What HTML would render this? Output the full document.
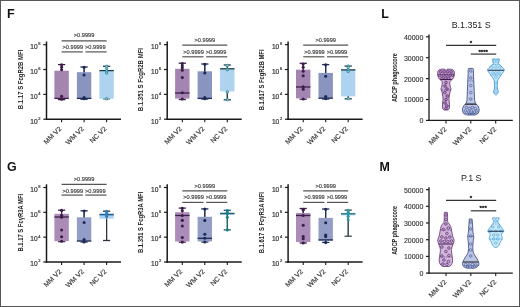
<!DOCTYPE html><html><head><meta charset="utf-8"><style>html,body{margin:0;padding:0;background:#fff}body{width:520px;height:307px;overflow:hidden}svg{display:block;filter:blur(0.3px)}</style></head><body>
<svg width="520" height="307" viewBox="0 0 520 307" font-family='"Liberation Sans", sans-serif'>
<rect x="0" y="0" width="520" height="307" fill="#fff"/>
<rect x="0.5" y="0.5" width="519" height="306" fill="none" stroke="#575757" stroke-width="1"/>
<text x="7" y="17.6" font-size="12.6" fill="#111" text-anchor="start" font-weight="bold">F</text>
<text x="7" y="170.8" font-size="12.4" fill="#111" text-anchor="start" font-weight="bold">G</text>
<text x="381.3" y="17.8" font-size="12.4" fill="#111" text-anchor="start" font-weight="bold">L</text>
<text x="379.5" y="171" font-size="12.4" fill="#111" text-anchor="start" font-weight="bold">M</text>
<line x1="46.5" y1="41.5" x2="46.5" y2="119.9" stroke="#1a1a1a" stroke-width="1.5"/>
<line x1="43.3" y1="119.2" x2="46.5" y2="119.2" stroke="#1a1a1a" stroke-width="1.2"/>
<text x="40.6" y="123.5" font-size="6.6" fill="#333" stroke="#333" stroke-width="0.2" text-anchor="end" font-family='"Liberation Sans", sans-serif'>10<tspan font-size="4.0" dx="0.7" dy="-3.9">2</tspan></text>
<line x1="43.3" y1="94.36" x2="46.5" y2="94.36" stroke="#1a1a1a" stroke-width="1.2"/>
<text x="40.6" y="98.66" font-size="6.6" fill="#333" stroke="#333" stroke-width="0.2" text-anchor="end" font-family='"Liberation Sans", sans-serif'>10<tspan font-size="4.0" dx="0.7" dy="-3.9">4</tspan></text>
<line x1="43.3" y1="69.52" x2="46.5" y2="69.52" stroke="#1a1a1a" stroke-width="1.2"/>
<text x="40.6" y="73.82" font-size="6.6" fill="#333" stroke="#333" stroke-width="0.2" text-anchor="end" font-family='"Liberation Sans", sans-serif'>10<tspan font-size="4.0" dx="0.7" dy="-3.9">6</tspan></text>
<line x1="43.3" y1="44.68" x2="46.5" y2="44.68" stroke="#1a1a1a" stroke-width="1.2"/>
<text x="40.6" y="48.98" font-size="6.6" fill="#333" stroke="#333" stroke-width="0.2" text-anchor="end" font-family='"Liberation Sans", sans-serif'>10<tspan font-size="4.0" dx="0.7" dy="-3.9">8</tspan></text>
<line x1="45.8" y1="119.2" x2="121" y2="119.2" stroke="#1a1a1a" stroke-width="1.5"/>
<line x1="61.6" y1="119.2" x2="61.6" y2="122.2" stroke="#1a1a1a" stroke-width="1.1"/>
<text x="61.9" y="129.2" font-size="6.9" fill="#333" text-anchor="end" font-weight="normal" transform="rotate(-45 61.9 129.2)" stroke="#333" stroke-width="0.15">MM V2</text>
<line x1="84.1" y1="119.2" x2="84.1" y2="122.2" stroke="#1a1a1a" stroke-width="1.1"/>
<text x="84.4" y="129.2" font-size="6.9" fill="#333" text-anchor="end" font-weight="normal" transform="rotate(-45 84.4 129.2)" stroke="#333" stroke-width="0.15">WM V2</text>
<line x1="106.6" y1="119.2" x2="106.6" y2="122.2" stroke="#1a1a1a" stroke-width="1.1"/>
<text x="106.9" y="129.2" font-size="6.9" fill="#333" text-anchor="end" font-weight="normal" transform="rotate(-45 106.9 129.2)" stroke="#333" stroke-width="0.15">NC V2</text>
<text x="23.2" y="79.4" font-size="6.9" fill="#222" text-anchor="middle" font-weight="bold" transform="rotate(-90 23.2 79.4)" textLength="59.5" lengthAdjust="spacingAndGlyphs">B.1.17 S FcgR2B MFI</text>
<line x1="61.6" y1="64.6" x2="61.6" y2="99.6" stroke="#3b1d47" stroke-width="1.1"/>
<line x1="58" y1="64.6" x2="65.2" y2="64.6" stroke="#3b1d47" stroke-width="1.3"/>
<line x1="58" y1="99.6" x2="65.2" y2="99.6" stroke="#3b1d47" stroke-width="1.3"/>
<rect x="54.4" y="70.7" width="14.4" height="27.8" fill="#a484b0" stroke="none" stroke-width="0"/>
<line x1="61.6" y1="64.6" x2="61.6" y2="70.7" stroke="#3b1d47" stroke-width="1.1"/>
<line x1="61.6" y1="98.5" x2="61.6" y2="99.6" stroke="#3b1d47" stroke-width="1.1"/>
<line x1="54.4" y1="98.4" x2="68.8" y2="98.4" stroke="#3b1d47" stroke-width="1.3"/>
<circle cx="61.6" cy="64.8" r="1.55" fill="#3b1d47" stroke="none" stroke-width="0"/>
<circle cx="61.6" cy="67.2" r="1.55" fill="#3b1d47" stroke="none" stroke-width="0"/>
<circle cx="61.6" cy="69.7" r="1.55" fill="#3b1d47" stroke="none" stroke-width="0"/>
<circle cx="61.6" cy="96.2" r="1.55" fill="#3b1d47" stroke="none" stroke-width="0"/>
<circle cx="61.6" cy="99.2" r="1.55" fill="#3b1d47" stroke="none" stroke-width="0"/>
<line x1="84.1" y1="67" x2="84.1" y2="99.2" stroke="#1e2a55" stroke-width="1.1"/>
<line x1="80.5" y1="67" x2="87.7" y2="67" stroke="#1e2a55" stroke-width="1.3"/>
<line x1="80.5" y1="99.2" x2="87.7" y2="99.2" stroke="#1e2a55" stroke-width="1.3"/>
<rect x="76.9" y="72.2" width="14.4" height="26.3" fill="#8994bf" stroke="none" stroke-width="0"/>
<line x1="84.1" y1="67" x2="84.1" y2="72.2" stroke="#1e2a55" stroke-width="1.1"/>
<line x1="84.1" y1="98.5" x2="84.1" y2="99.2" stroke="#1e2a55" stroke-width="1.1"/>
<line x1="76.9" y1="98.4" x2="91.3" y2="98.4" stroke="#1e2a55" stroke-width="1.3"/>
<circle cx="84.1" cy="67.2" r="1.55" fill="#1e2a55" stroke="none" stroke-width="0"/>
<circle cx="84.1" cy="75" r="1.55" fill="#1e2a55" stroke="none" stroke-width="0"/>
<circle cx="84.1" cy="97.5" r="1.55" fill="#1e2a55" stroke="none" stroke-width="0"/>
<circle cx="84.1" cy="98.8" r="1.55" fill="#1e2a55" stroke="none" stroke-width="0"/>
<line x1="106.6" y1="66.3" x2="106.6" y2="98.8" stroke="#1e3c44" stroke-width="1.1"/>
<line x1="103" y1="66.3" x2="110.2" y2="66.3" stroke="#1e3c44" stroke-width="1.3"/>
<line x1="103" y1="98.8" x2="110.2" y2="98.8" stroke="#1e3c44" stroke-width="1.3"/>
<rect x="99.4" y="70.2" width="14.4" height="28.6" fill="#add3ef" stroke="none" stroke-width="0"/>
<line x1="106.6" y1="66.3" x2="106.6" y2="70.2" stroke="#1e3c44" stroke-width="1.1"/>
<line x1="106.6" y1="98.8" x2="106.6" y2="98.8" stroke="#1e3c44" stroke-width="1.1"/>
<line x1="99.4" y1="70.6" x2="113.8" y2="70.6" stroke="#1e3c44" stroke-width="1.3"/>
<circle cx="106.6" cy="66.3" r="1.25" fill="#8fc3d6" stroke="#2a8797" stroke-width="0.8"/>
<circle cx="106.6" cy="68.5" r="1.25" fill="#8fc3d6" stroke="#2a8797" stroke-width="0.8"/>
<circle cx="106.6" cy="71" r="1.25" fill="#8fc3d6" stroke="#2a8797" stroke-width="0.8"/>
<circle cx="106.6" cy="73" r="1.25" fill="#8fc3d6" stroke="#2a8797" stroke-width="0.8"/>
<circle cx="106.6" cy="98.8" r="1.25" fill="#8fc3d6" stroke="#2a8797" stroke-width="0.8"/>
<line x1="61.6" y1="40.8" x2="106.6" y2="40.8" stroke="#555" stroke-width="1.2"/>
<text x="84.1" y="37.4" font-size="6" fill="#3a3a3a" text-anchor="middle" font-weight="normal" textLength="20.6" lengthAdjust="spacingAndGlyphs" stroke="#3a3a3a" stroke-width="0.15">&gt;0.9999</text>
<line x1="61.6" y1="51.9" x2="82.8" y2="51.9" stroke="#555" stroke-width="1.2"/>
<line x1="85.4" y1="51.9" x2="106.6" y2="51.9" stroke="#555" stroke-width="1.2"/>
<text x="72.85" y="49.3" font-size="6" fill="#3a3a3a" text-anchor="middle" font-weight="normal" textLength="20.6" lengthAdjust="spacingAndGlyphs" stroke="#3a3a3a" stroke-width="0.15">&gt;0.9999</text>
<text x="95.35" y="49.3" font-size="6" fill="#3a3a3a" text-anchor="middle" font-weight="normal" textLength="20.6" lengthAdjust="spacingAndGlyphs" stroke="#3a3a3a" stroke-width="0.15">&gt;0.9999</text>
<line x1="167.2" y1="41.5" x2="167.2" y2="119.9" stroke="#1a1a1a" stroke-width="1.5"/>
<line x1="164" y1="119.2" x2="167.2" y2="119.2" stroke="#1a1a1a" stroke-width="1.2"/>
<text x="161.3" y="123.5" font-size="6.6" fill="#333" stroke="#333" stroke-width="0.2" text-anchor="end" font-family='"Liberation Sans", sans-serif'>10<tspan font-size="4.0" dx="0.7" dy="-3.9">2</tspan></text>
<line x1="164" y1="94.36" x2="167.2" y2="94.36" stroke="#1a1a1a" stroke-width="1.2"/>
<text x="161.3" y="98.66" font-size="6.6" fill="#333" stroke="#333" stroke-width="0.2" text-anchor="end" font-family='"Liberation Sans", sans-serif'>10<tspan font-size="4.0" dx="0.7" dy="-3.9">4</tspan></text>
<line x1="164" y1="69.52" x2="167.2" y2="69.52" stroke="#1a1a1a" stroke-width="1.2"/>
<text x="161.3" y="73.82" font-size="6.6" fill="#333" stroke="#333" stroke-width="0.2" text-anchor="end" font-family='"Liberation Sans", sans-serif'>10<tspan font-size="4.0" dx="0.7" dy="-3.9">6</tspan></text>
<line x1="164" y1="44.68" x2="167.2" y2="44.68" stroke="#1a1a1a" stroke-width="1.2"/>
<text x="161.3" y="48.98" font-size="6.6" fill="#333" stroke="#333" stroke-width="0.2" text-anchor="end" font-family='"Liberation Sans", sans-serif'>10<tspan font-size="4.0" dx="0.7" dy="-3.9">8</tspan></text>
<line x1="166.5" y1="119.2" x2="241.7" y2="119.2" stroke="#1a1a1a" stroke-width="1.5"/>
<line x1="182.3" y1="119.2" x2="182.3" y2="122.2" stroke="#1a1a1a" stroke-width="1.1"/>
<text x="182.6" y="129.2" font-size="6.9" fill="#333" text-anchor="end" font-weight="normal" transform="rotate(-45 182.6 129.2)" stroke="#333" stroke-width="0.15">MM V2</text>
<line x1="204.8" y1="119.2" x2="204.8" y2="122.2" stroke="#1a1a1a" stroke-width="1.1"/>
<text x="205.1" y="129.2" font-size="6.9" fill="#333" text-anchor="end" font-weight="normal" transform="rotate(-45 205.1 129.2)" stroke="#333" stroke-width="0.15">WM V2</text>
<line x1="227.3" y1="119.2" x2="227.3" y2="122.2" stroke="#1a1a1a" stroke-width="1.1"/>
<text x="227.6" y="129.2" font-size="6.9" fill="#333" text-anchor="end" font-weight="normal" transform="rotate(-45 227.6 129.2)" stroke="#333" stroke-width="0.15">NC V2</text>
<text x="143.3" y="79.6" font-size="6.9" fill="#222" text-anchor="middle" font-weight="bold" transform="rotate(-90 143.3 79.6)" textLength="63.2" lengthAdjust="spacingAndGlyphs">B.1.351 S FcgR2B MFI</text>
<line x1="182.3" y1="63.2" x2="182.3" y2="99.5" stroke="#3b1d47" stroke-width="1.1"/>
<line x1="178.7" y1="63.2" x2="185.9" y2="63.2" stroke="#3b1d47" stroke-width="1.3"/>
<line x1="178.7" y1="99.5" x2="185.9" y2="99.5" stroke="#3b1d47" stroke-width="1.3"/>
<rect x="175.1" y="68.8" width="14.4" height="29.8" fill="#a484b0" stroke="none" stroke-width="0"/>
<line x1="182.3" y1="63.2" x2="182.3" y2="68.8" stroke="#3b1d47" stroke-width="1.1"/>
<line x1="182.3" y1="98.6" x2="182.3" y2="99.5" stroke="#3b1d47" stroke-width="1.1"/>
<line x1="175.1" y1="93" x2="189.5" y2="93" stroke="#3b1d47" stroke-width="1.3"/>
<circle cx="182.3" cy="63.5" r="1.55" fill="#3b1d47" stroke="none" stroke-width="0"/>
<circle cx="182.3" cy="65.7" r="1.55" fill="#3b1d47" stroke="none" stroke-width="0"/>
<circle cx="182.3" cy="67.8" r="1.55" fill="#3b1d47" stroke="none" stroke-width="0"/>
<circle cx="182.3" cy="70.2" r="1.55" fill="#3b1d47" stroke="none" stroke-width="0"/>
<circle cx="182.3" cy="77.5" r="1.55" fill="#3b1d47" stroke="none" stroke-width="0"/>
<circle cx="182.3" cy="92.7" r="1.55" fill="#3b1d47" stroke="none" stroke-width="0"/>
<circle cx="182.3" cy="99" r="1.55" fill="#3b1d47" stroke="none" stroke-width="0"/>
<line x1="204.8" y1="64" x2="204.8" y2="99" stroke="#1e2a55" stroke-width="1.1"/>
<line x1="201.2" y1="64" x2="208.4" y2="64" stroke="#1e2a55" stroke-width="1.3"/>
<line x1="201.2" y1="99" x2="208.4" y2="99" stroke="#1e2a55" stroke-width="1.3"/>
<rect x="197.6" y="71.3" width="14.4" height="27.3" fill="#8994bf" stroke="none" stroke-width="0"/>
<line x1="204.8" y1="64" x2="204.8" y2="71.3" stroke="#1e2a55" stroke-width="1.1"/>
<line x1="204.8" y1="98.6" x2="204.8" y2="99" stroke="#1e2a55" stroke-width="1.1"/>
<line x1="197.6" y1="98.4" x2="212" y2="98.4" stroke="#1e2a55" stroke-width="1.3"/>
<circle cx="204.8" cy="64.2" r="1.55" fill="#1e2a55" stroke="none" stroke-width="0"/>
<circle cx="204.8" cy="72.9" r="1.55" fill="#1e2a55" stroke="none" stroke-width="0"/>
<circle cx="204.8" cy="97.6" r="1.55" fill="#1e2a55" stroke="none" stroke-width="0"/>
<circle cx="204.8" cy="98.8" r="1.55" fill="#1e2a55" stroke="none" stroke-width="0"/>
<line x1="227.3" y1="65" x2="227.3" y2="99.8" stroke="#1e3c44" stroke-width="1.1"/>
<line x1="223.7" y1="65" x2="230.9" y2="65" stroke="#1e3c44" stroke-width="1.3"/>
<line x1="223.7" y1="99.8" x2="230.9" y2="99.8" stroke="#1e3c44" stroke-width="1.3"/>
<rect x="220.1" y="68.6" width="14.4" height="22.8" fill="#add3ef" stroke="none" stroke-width="0"/>
<line x1="227.3" y1="65" x2="227.3" y2="68.6" stroke="#1e3c44" stroke-width="1.1"/>
<line x1="227.3" y1="91.4" x2="227.3" y2="99.8" stroke="#1e3c44" stroke-width="1.1"/>
<line x1="220.1" y1="68.8" x2="234.5" y2="68.8" stroke="#1e3c44" stroke-width="1.3"/>
<circle cx="227.3" cy="65.5" r="1.25" fill="#8fc3d6" stroke="#2a8797" stroke-width="0.8"/>
<circle cx="227.3" cy="69.7" r="1.25" fill="#8fc3d6" stroke="#2a8797" stroke-width="0.8"/>
<circle cx="227.3" cy="92" r="1.25" fill="#8fc3d6" stroke="#2a8797" stroke-width="0.8"/>
<circle cx="227.3" cy="99.8" r="1.25" fill="#8fc3d6" stroke="#2a8797" stroke-width="0.8"/>
<line x1="182.3" y1="45.2" x2="227.3" y2="45.2" stroke="#555" stroke-width="1.2"/>
<text x="204.8" y="42.3" font-size="6" fill="#3a3a3a" text-anchor="middle" font-weight="normal" textLength="20.6" lengthAdjust="spacingAndGlyphs" stroke="#3a3a3a" stroke-width="0.15">&gt;0.9999</text>
<line x1="182.3" y1="56.8" x2="203.5" y2="56.8" stroke="#555" stroke-width="1.2"/>
<line x1="206.1" y1="56.8" x2="227.3" y2="56.8" stroke="#555" stroke-width="1.2"/>
<text x="193.55" y="53.8" font-size="6" fill="#3a3a3a" text-anchor="middle" font-weight="normal" textLength="20.6" lengthAdjust="spacingAndGlyphs" stroke="#3a3a3a" stroke-width="0.15">&gt;0.9999</text>
<text x="216.05" y="53.8" font-size="6" fill="#3a3a3a" text-anchor="middle" font-weight="normal" textLength="20.6" lengthAdjust="spacingAndGlyphs" stroke="#3a3a3a" stroke-width="0.15">&gt;0.9999</text>
<line x1="288.1" y1="41.5" x2="288.1" y2="119.9" stroke="#1a1a1a" stroke-width="1.5"/>
<line x1="284.9" y1="119.2" x2="288.1" y2="119.2" stroke="#1a1a1a" stroke-width="1.2"/>
<text x="282.2" y="123.5" font-size="6.6" fill="#333" stroke="#333" stroke-width="0.2" text-anchor="end" font-family='"Liberation Sans", sans-serif'>10<tspan font-size="4.0" dx="0.7" dy="-3.9">2</tspan></text>
<line x1="284.9" y1="94.36" x2="288.1" y2="94.36" stroke="#1a1a1a" stroke-width="1.2"/>
<text x="282.2" y="98.66" font-size="6.6" fill="#333" stroke="#333" stroke-width="0.2" text-anchor="end" font-family='"Liberation Sans", sans-serif'>10<tspan font-size="4.0" dx="0.7" dy="-3.9">4</tspan></text>
<line x1="284.9" y1="69.52" x2="288.1" y2="69.52" stroke="#1a1a1a" stroke-width="1.2"/>
<text x="282.2" y="73.82" font-size="6.6" fill="#333" stroke="#333" stroke-width="0.2" text-anchor="end" font-family='"Liberation Sans", sans-serif'>10<tspan font-size="4.0" dx="0.7" dy="-3.9">6</tspan></text>
<line x1="284.9" y1="44.68" x2="288.1" y2="44.68" stroke="#1a1a1a" stroke-width="1.2"/>
<text x="282.2" y="48.98" font-size="6.6" fill="#333" stroke="#333" stroke-width="0.2" text-anchor="end" font-family='"Liberation Sans", sans-serif'>10<tspan font-size="4.0" dx="0.7" dy="-3.9">8</tspan></text>
<line x1="287.4" y1="119.2" x2="362.6" y2="119.2" stroke="#1a1a1a" stroke-width="1.5"/>
<line x1="303.2" y1="119.2" x2="303.2" y2="122.2" stroke="#1a1a1a" stroke-width="1.1"/>
<text x="303.5" y="129.2" font-size="6.9" fill="#333" text-anchor="end" font-weight="normal" transform="rotate(-45 303.5 129.2)" stroke="#333" stroke-width="0.15">MM V2</text>
<line x1="325.7" y1="119.2" x2="325.7" y2="122.2" stroke="#1a1a1a" stroke-width="1.1"/>
<text x="326" y="129.2" font-size="6.9" fill="#333" text-anchor="end" font-weight="normal" transform="rotate(-45 326 129.2)" stroke="#333" stroke-width="0.15">WM V2</text>
<line x1="348.2" y1="119.2" x2="348.2" y2="122.2" stroke="#1a1a1a" stroke-width="1.1"/>
<text x="348.5" y="129.2" font-size="6.9" fill="#333" text-anchor="end" font-weight="normal" transform="rotate(-45 348.5 129.2)" stroke="#333" stroke-width="0.15">NC V2</text>
<text x="264.2" y="79.9" font-size="6.9" fill="#222" text-anchor="middle" font-weight="bold" transform="rotate(-90 264.2 79.9)" textLength="60.8" lengthAdjust="spacingAndGlyphs">B.1.617 S FcgR2B MFI</text>
<line x1="303.2" y1="63.3" x2="303.2" y2="99.2" stroke="#3b1d47" stroke-width="1.1"/>
<line x1="299.6" y1="63.3" x2="306.8" y2="63.3" stroke="#3b1d47" stroke-width="1.3"/>
<line x1="299.6" y1="99.2" x2="306.8" y2="99.2" stroke="#3b1d47" stroke-width="1.3"/>
<rect x="296" y="69.7" width="14.4" height="28.7" fill="#a484b0" stroke="none" stroke-width="0"/>
<line x1="303.2" y1="63.3" x2="303.2" y2="69.7" stroke="#3b1d47" stroke-width="1.1"/>
<line x1="303.2" y1="98.4" x2="303.2" y2="99.2" stroke="#3b1d47" stroke-width="1.1"/>
<line x1="296" y1="87" x2="310.4" y2="87" stroke="#3b1d47" stroke-width="1.3"/>
<circle cx="303.2" cy="64" r="1.55" fill="#3b1d47" stroke="none" stroke-width="0"/>
<circle cx="303.2" cy="67.2" r="1.55" fill="#3b1d47" stroke="none" stroke-width="0"/>
<circle cx="303.2" cy="71.3" r="1.55" fill="#3b1d47" stroke="none" stroke-width="0"/>
<circle cx="303.2" cy="75.8" r="1.55" fill="#3b1d47" stroke="none" stroke-width="0"/>
<circle cx="303.2" cy="86.8" r="1.55" fill="#3b1d47" stroke="none" stroke-width="0"/>
<circle cx="303.2" cy="89.2" r="1.55" fill="#3b1d47" stroke="none" stroke-width="0"/>
<circle cx="303.2" cy="99" r="1.55" fill="#3b1d47" stroke="none" stroke-width="0"/>
<line x1="325.7" y1="64.6" x2="325.7" y2="99" stroke="#1e2a55" stroke-width="1.1"/>
<line x1="322.1" y1="64.6" x2="329.3" y2="64.6" stroke="#1e2a55" stroke-width="1.3"/>
<line x1="322.1" y1="99" x2="329.3" y2="99" stroke="#1e2a55" stroke-width="1.3"/>
<rect x="318.5" y="72.9" width="14.4" height="25.5" fill="#8994bf" stroke="none" stroke-width="0"/>
<line x1="325.7" y1="64.6" x2="325.7" y2="72.9" stroke="#1e2a55" stroke-width="1.1"/>
<line x1="325.7" y1="98.4" x2="325.7" y2="99" stroke="#1e2a55" stroke-width="1.1"/>
<line x1="318.5" y1="98.2" x2="332.9" y2="98.2" stroke="#1e2a55" stroke-width="1.3"/>
<circle cx="325.7" cy="64.8" r="1.55" fill="#1e2a55" stroke="none" stroke-width="0"/>
<circle cx="325.7" cy="76.2" r="1.55" fill="#1e2a55" stroke="none" stroke-width="0"/>
<circle cx="325.7" cy="96.5" r="1.55" fill="#1e2a55" stroke="none" stroke-width="0"/>
<circle cx="325.7" cy="98.6" r="1.55" fill="#1e2a55" stroke="none" stroke-width="0"/>
<line x1="348.2" y1="66.1" x2="348.2" y2="98.8" stroke="#1e3c44" stroke-width="1.1"/>
<line x1="344.6" y1="66.1" x2="351.8" y2="66.1" stroke="#1e3c44" stroke-width="1.3"/>
<line x1="344.6" y1="98.8" x2="351.8" y2="98.8" stroke="#1e3c44" stroke-width="1.3"/>
<rect x="341" y="69.5" width="14.4" height="26.9" fill="#add3ef" stroke="none" stroke-width="0"/>
<line x1="348.2" y1="66.1" x2="348.2" y2="69.5" stroke="#1e3c44" stroke-width="1.1"/>
<line x1="348.2" y1="96.4" x2="348.2" y2="98.8" stroke="#1e3c44" stroke-width="1.1"/>
<line x1="341" y1="69.9" x2="355.4" y2="69.9" stroke="#1e3c44" stroke-width="1.3"/>
<circle cx="348.2" cy="66.1" r="1.25" fill="#8fc3d6" stroke="#2a8797" stroke-width="0.8"/>
<circle cx="348.2" cy="67.5" r="1.25" fill="#8fc3d6" stroke="#2a8797" stroke-width="0.8"/>
<circle cx="348.2" cy="70" r="1.25" fill="#8fc3d6" stroke="#2a8797" stroke-width="0.8"/>
<circle cx="348.2" cy="71.5" r="1.25" fill="#8fc3d6" stroke="#2a8797" stroke-width="0.8"/>
<circle cx="348.2" cy="98.6" r="1.25" fill="#8fc3d6" stroke="#2a8797" stroke-width="0.8"/>
<line x1="303.2" y1="45.2" x2="348.2" y2="45.2" stroke="#555" stroke-width="1.2"/>
<text x="325.7" y="42.3" font-size="6" fill="#3a3a3a" text-anchor="middle" font-weight="normal" textLength="20.6" lengthAdjust="spacingAndGlyphs" stroke="#3a3a3a" stroke-width="0.15">&gt;0.9999</text>
<line x1="303.2" y1="56.8" x2="324.4" y2="56.8" stroke="#555" stroke-width="1.2"/>
<line x1="327" y1="56.8" x2="348.2" y2="56.8" stroke="#555" stroke-width="1.2"/>
<text x="314.45" y="53.8" font-size="6" fill="#3a3a3a" text-anchor="middle" font-weight="normal" textLength="20.6" lengthAdjust="spacingAndGlyphs" stroke="#3a3a3a" stroke-width="0.15">&gt;0.9999</text>
<text x="336.95" y="53.8" font-size="6" fill="#3a3a3a" text-anchor="middle" font-weight="normal" textLength="20.6" lengthAdjust="spacingAndGlyphs" stroke="#3a3a3a" stroke-width="0.15">&gt;0.9999</text>
<line x1="46.5" y1="184.3" x2="46.5" y2="262.7" stroke="#1a1a1a" stroke-width="1.5"/>
<line x1="43.3" y1="262" x2="46.5" y2="262" stroke="#1a1a1a" stroke-width="1.2"/>
<text x="40.6" y="266.3" font-size="6.6" fill="#333" stroke="#333" stroke-width="0.2" text-anchor="end" font-family='"Liberation Sans", sans-serif'>10<tspan font-size="4.0" dx="0.7" dy="-3.9">2</tspan></text>
<line x1="43.3" y1="237.16" x2="46.5" y2="237.16" stroke="#1a1a1a" stroke-width="1.2"/>
<text x="40.6" y="241.46" font-size="6.6" fill="#333" stroke="#333" stroke-width="0.2" text-anchor="end" font-family='"Liberation Sans", sans-serif'>10<tspan font-size="4.0" dx="0.7" dy="-3.9">4</tspan></text>
<line x1="43.3" y1="212.32" x2="46.5" y2="212.32" stroke="#1a1a1a" stroke-width="1.2"/>
<text x="40.6" y="216.62" font-size="6.6" fill="#333" stroke="#333" stroke-width="0.2" text-anchor="end" font-family='"Liberation Sans", sans-serif'>10<tspan font-size="4.0" dx="0.7" dy="-3.9">6</tspan></text>
<line x1="43.3" y1="187.48" x2="46.5" y2="187.48" stroke="#1a1a1a" stroke-width="1.2"/>
<text x="40.6" y="191.78" font-size="6.6" fill="#333" stroke="#333" stroke-width="0.2" text-anchor="end" font-family='"Liberation Sans", sans-serif'>10<tspan font-size="4.0" dx="0.7" dy="-3.9">8</tspan></text>
<line x1="45.8" y1="262" x2="121" y2="262" stroke="#1a1a1a" stroke-width="1.5"/>
<line x1="61.6" y1="262" x2="61.6" y2="265" stroke="#1a1a1a" stroke-width="1.1"/>
<text x="61.9" y="272" font-size="6.9" fill="#333" text-anchor="end" font-weight="normal" transform="rotate(-45 61.9 272)" stroke="#333" stroke-width="0.15">MM V2</text>
<line x1="84.1" y1="262" x2="84.1" y2="265" stroke="#1a1a1a" stroke-width="1.1"/>
<text x="84.4" y="272" font-size="6.9" fill="#333" text-anchor="end" font-weight="normal" transform="rotate(-45 84.4 272)" stroke="#333" stroke-width="0.15">WM V2</text>
<line x1="106.6" y1="262" x2="106.6" y2="265" stroke="#1a1a1a" stroke-width="1.1"/>
<text x="106.9" y="272" font-size="6.9" fill="#333" text-anchor="end" font-weight="normal" transform="rotate(-45 106.9 272)" stroke="#333" stroke-width="0.15">NC V2</text>
<text x="23.2" y="222.7" font-size="6.9" fill="#222" text-anchor="middle" font-weight="bold" transform="rotate(-90 23.2 222.7)" textLength="57.8" lengthAdjust="spacingAndGlyphs">B.1.17 S Fc&#947;R3A MFI</text>
<line x1="61.6" y1="210.2" x2="61.6" y2="241.6" stroke="#3b1d47" stroke-width="1.1"/>
<line x1="58" y1="210.2" x2="65.2" y2="210.2" stroke="#3b1d47" stroke-width="1.3"/>
<line x1="58" y1="241.6" x2="65.2" y2="241.6" stroke="#3b1d47" stroke-width="1.3"/>
<rect x="54.4" y="213.8" width="14.4" height="27.4" fill="#ab8bb7" stroke="none" stroke-width="0"/>
<line x1="61.6" y1="210.2" x2="61.6" y2="213.8" stroke="#3b1d47" stroke-width="1.1"/>
<line x1="61.6" y1="241.2" x2="61.6" y2="241.6" stroke="#3b1d47" stroke-width="1.1"/>
<line x1="54.4" y1="217" x2="68.8" y2="217" stroke="#3b1d47" stroke-width="1.3"/>
<circle cx="61.6" cy="210.4" r="1.55" fill="#3b1d47" stroke="none" stroke-width="0"/>
<circle cx="61.6" cy="215.3" r="1.55" fill="#3b1d47" stroke="none" stroke-width="0"/>
<circle cx="61.6" cy="217.3" r="1.55" fill="#3b1d47" stroke="none" stroke-width="0"/>
<circle cx="61.6" cy="230" r="1.55" fill="#3b1d47" stroke="none" stroke-width="0"/>
<circle cx="61.6" cy="236.7" r="1.55" fill="#3b1d47" stroke="none" stroke-width="0"/>
<circle cx="61.6" cy="241.2" r="1.55" fill="#3b1d47" stroke="none" stroke-width="0"/>
<line x1="84.1" y1="210.8" x2="84.1" y2="242" stroke="#1e2a55" stroke-width="1.1"/>
<line x1="80.5" y1="210.8" x2="87.7" y2="210.8" stroke="#1e2a55" stroke-width="1.3"/>
<line x1="80.5" y1="242" x2="87.7" y2="242" stroke="#1e2a55" stroke-width="1.3"/>
<rect x="76.9" y="217.3" width="14.4" height="23.9" fill="#939dc6" stroke="none" stroke-width="0"/>
<line x1="84.1" y1="210.8" x2="84.1" y2="217.3" stroke="#1e2a55" stroke-width="1.1"/>
<line x1="84.1" y1="241.2" x2="84.1" y2="242" stroke="#1e2a55" stroke-width="1.1"/>
<line x1="76.9" y1="241" x2="91.3" y2="241" stroke="#1e2a55" stroke-width="1.3"/>
<circle cx="84.1" cy="211" r="1.55" fill="#1e2a55" stroke="none" stroke-width="0"/>
<circle cx="84.1" cy="222.5" r="1.55" fill="#1e2a55" stroke="none" stroke-width="0"/>
<circle cx="84.1" cy="239.6" r="1.55" fill="#1e2a55" stroke="none" stroke-width="0"/>
<circle cx="84.1" cy="242" r="1.55" fill="#1e2a55" stroke="none" stroke-width="0"/>
<line x1="106.6" y1="211.2" x2="106.6" y2="240.5" stroke="#2a3440" stroke-width="1.1"/>
<line x1="103" y1="211.2" x2="110.2" y2="211.2" stroke="#2a3440" stroke-width="1.3"/>
<line x1="103" y1="240.5" x2="110.2" y2="240.5" stroke="#2a3440" stroke-width="1.3"/>
<rect x="99.4" y="213.2" width="14.4" height="5.5" fill="#add3ef" stroke="none" stroke-width="0"/>
<line x1="106.6" y1="211.2" x2="106.6" y2="213.2" stroke="#2a3440" stroke-width="1.1"/>
<line x1="106.6" y1="218.7" x2="106.6" y2="240.5" stroke="#2a3440" stroke-width="1.1"/>
<line x1="99.4" y1="214.7" x2="113.8" y2="214.7" stroke="#1f5a8a" stroke-width="1.3"/>
<circle cx="106.6" cy="211.4" r="1.55" fill="#2f7fc0" stroke="none" stroke-width="0"/>
<circle cx="106.6" cy="213.3" r="1.55" fill="#2f7fc0" stroke="none" stroke-width="0"/>
<circle cx="106.6" cy="214.8" r="1.55" fill="#2f7fc0" stroke="none" stroke-width="0"/>
<circle cx="106.6" cy="216.6" r="1.55" fill="#2f7fc0" stroke="none" stroke-width="0"/>
<line x1="61.6" y1="184.4" x2="106.6" y2="184.4" stroke="#555" stroke-width="1.2"/>
<text x="84.1" y="180.7" font-size="6" fill="#3a3a3a" text-anchor="middle" font-weight="normal" textLength="20.6" lengthAdjust="spacingAndGlyphs" stroke="#3a3a3a" stroke-width="0.15">&gt;0.9999</text>
<line x1="61.6" y1="195.1" x2="82.8" y2="195.1" stroke="#555" stroke-width="1.2"/>
<line x1="85.4" y1="195.1" x2="106.6" y2="195.1" stroke="#555" stroke-width="1.2"/>
<text x="72.85" y="192.6" font-size="6" fill="#3a3a3a" text-anchor="middle" font-weight="normal" textLength="20.6" lengthAdjust="spacingAndGlyphs" stroke="#3a3a3a" stroke-width="0.15">&gt;0.9999</text>
<text x="95.35" y="192.6" font-size="6" fill="#3a3a3a" text-anchor="middle" font-weight="normal" textLength="20.6" lengthAdjust="spacingAndGlyphs" stroke="#3a3a3a" stroke-width="0.15">&gt;0.9999</text>
<line x1="167.2" y1="184.3" x2="167.2" y2="262.7" stroke="#1a1a1a" stroke-width="1.5"/>
<line x1="164" y1="262" x2="167.2" y2="262" stroke="#1a1a1a" stroke-width="1.2"/>
<text x="161.3" y="266.3" font-size="6.6" fill="#333" stroke="#333" stroke-width="0.2" text-anchor="end" font-family='"Liberation Sans", sans-serif'>10<tspan font-size="4.0" dx="0.7" dy="-3.9">2</tspan></text>
<line x1="164" y1="237.16" x2="167.2" y2="237.16" stroke="#1a1a1a" stroke-width="1.2"/>
<text x="161.3" y="241.46" font-size="6.6" fill="#333" stroke="#333" stroke-width="0.2" text-anchor="end" font-family='"Liberation Sans", sans-serif'>10<tspan font-size="4.0" dx="0.7" dy="-3.9">4</tspan></text>
<line x1="164" y1="212.32" x2="167.2" y2="212.32" stroke="#1a1a1a" stroke-width="1.2"/>
<text x="161.3" y="216.62" font-size="6.6" fill="#333" stroke="#333" stroke-width="0.2" text-anchor="end" font-family='"Liberation Sans", sans-serif'>10<tspan font-size="4.0" dx="0.7" dy="-3.9">6</tspan></text>
<line x1="164" y1="187.48" x2="167.2" y2="187.48" stroke="#1a1a1a" stroke-width="1.2"/>
<text x="161.3" y="191.78" font-size="6.6" fill="#333" stroke="#333" stroke-width="0.2" text-anchor="end" font-family='"Liberation Sans", sans-serif'>10<tspan font-size="4.0" dx="0.7" dy="-3.9">8</tspan></text>
<line x1="166.5" y1="262" x2="241.7" y2="262" stroke="#1a1a1a" stroke-width="1.5"/>
<line x1="182.3" y1="262" x2="182.3" y2="265" stroke="#1a1a1a" stroke-width="1.1"/>
<text x="182.6" y="272" font-size="6.9" fill="#333" text-anchor="end" font-weight="normal" transform="rotate(-45 182.6 272)" stroke="#333" stroke-width="0.15">MM V2</text>
<line x1="204.8" y1="262" x2="204.8" y2="265" stroke="#1a1a1a" stroke-width="1.1"/>
<text x="205.1" y="272" font-size="6.9" fill="#333" text-anchor="end" font-weight="normal" transform="rotate(-45 205.1 272)" stroke="#333" stroke-width="0.15">WM V2</text>
<line x1="227.3" y1="262" x2="227.3" y2="265" stroke="#1a1a1a" stroke-width="1.1"/>
<text x="227.6" y="272" font-size="6.9" fill="#333" text-anchor="end" font-weight="normal" transform="rotate(-45 227.6 272)" stroke="#333" stroke-width="0.15">NC V2</text>
<text x="143.3" y="222.4" font-size="6.9" fill="#222" text-anchor="middle" font-weight="bold" transform="rotate(-90 143.3 222.4)" textLength="61.4" lengthAdjust="spacingAndGlyphs">B.1.351 S FcgR3A MFI</text>
<line x1="182.3" y1="208.1" x2="182.3" y2="242.1" stroke="#3b1d47" stroke-width="1.1"/>
<line x1="178.7" y1="208.1" x2="185.9" y2="208.1" stroke="#3b1d47" stroke-width="1.3"/>
<line x1="178.7" y1="242.1" x2="185.9" y2="242.1" stroke="#3b1d47" stroke-width="1.3"/>
<rect x="175.1" y="212.2" width="14.4" height="29.3" fill="#ab8bb7" stroke="none" stroke-width="0"/>
<line x1="182.3" y1="208.1" x2="182.3" y2="212.2" stroke="#3b1d47" stroke-width="1.1"/>
<line x1="182.3" y1="241.5" x2="182.3" y2="242.1" stroke="#3b1d47" stroke-width="1.1"/>
<line x1="175.1" y1="215.5" x2="189.5" y2="215.5" stroke="#3b1d47" stroke-width="1.3"/>
<circle cx="182.3" cy="208.3" r="1.55" fill="#3b1d47" stroke="none" stroke-width="0"/>
<circle cx="182.3" cy="210.8" r="1.55" fill="#3b1d47" stroke="none" stroke-width="0"/>
<circle cx="182.3" cy="215.5" r="1.55" fill="#3b1d47" stroke="none" stroke-width="0"/>
<circle cx="182.3" cy="220.4" r="1.55" fill="#3b1d47" stroke="none" stroke-width="0"/>
<circle cx="182.3" cy="226" r="1.55" fill="#3b1d47" stroke="none" stroke-width="0"/>
<circle cx="182.3" cy="237.5" r="1.55" fill="#3b1d47" stroke="none" stroke-width="0"/>
<circle cx="182.3" cy="242.1" r="1.55" fill="#3b1d47" stroke="none" stroke-width="0"/>
<line x1="204.8" y1="208.9" x2="204.8" y2="242" stroke="#1e2a55" stroke-width="1.1"/>
<line x1="201.2" y1="208.9" x2="208.4" y2="208.9" stroke="#1e2a55" stroke-width="1.3"/>
<line x1="201.2" y1="242" x2="208.4" y2="242" stroke="#1e2a55" stroke-width="1.3"/>
<rect x="197.6" y="216.8" width="14.4" height="24.7" fill="#939dc6" stroke="none" stroke-width="0"/>
<line x1="204.8" y1="208.9" x2="204.8" y2="216.8" stroke="#1e2a55" stroke-width="1.1"/>
<line x1="204.8" y1="241.5" x2="204.8" y2="242" stroke="#1e2a55" stroke-width="1.1"/>
<line x1="197.6" y1="238.3" x2="212" y2="238.3" stroke="#1e2a55" stroke-width="1.3"/>
<circle cx="204.8" cy="209.1" r="1.55" fill="#1e2a55" stroke="none" stroke-width="0"/>
<circle cx="204.8" cy="220.4" r="1.55" fill="#1e2a55" stroke="none" stroke-width="0"/>
<circle cx="204.8" cy="234.2" r="1.55" fill="#1e2a55" stroke="none" stroke-width="0"/>
<circle cx="204.8" cy="238.3" r="1.55" fill="#1e2a55" stroke="none" stroke-width="0"/>
<circle cx="204.8" cy="242" r="1.55" fill="#1e2a55" stroke="none" stroke-width="0"/>
<line x1="227.3" y1="210.3" x2="227.3" y2="229.9" stroke="#1c5e6a" stroke-width="1.1"/>
<line x1="223.7" y1="210.3" x2="230.9" y2="210.3" stroke="#1c5e6a" stroke-width="1.3"/>
<line x1="223.7" y1="229.9" x2="230.9" y2="229.9" stroke="#1c5e6a" stroke-width="1.3"/>
<rect x="220.1" y="212.6" width="14.4" height="2.4" fill="#add3ef" stroke="none" stroke-width="0"/>
<line x1="227.3" y1="210.3" x2="227.3" y2="212.6" stroke="#1c5e6a" stroke-width="1.1"/>
<line x1="227.3" y1="215" x2="227.3" y2="229.9" stroke="#1c5e6a" stroke-width="1.1"/>
<line x1="220.1" y1="213.5" x2="234.5" y2="213.5" stroke="#1c5e6a" stroke-width="1.3"/>
<circle cx="227.3" cy="210.6" r="1.55" fill="#237f8f" stroke="none" stroke-width="0"/>
<circle cx="227.3" cy="212.3" r="1.55" fill="#237f8f" stroke="none" stroke-width="0"/>
<circle cx="227.3" cy="213.8" r="1.55" fill="#237f8f" stroke="none" stroke-width="0"/>
<circle cx="227.3" cy="217.3" r="1.55" fill="#237f8f" stroke="none" stroke-width="0"/>
<circle cx="227.3" cy="229.9" r="1.55" fill="#237f8f" stroke="none" stroke-width="0"/>
<line x1="182.3" y1="190.9" x2="227.3" y2="190.9" stroke="#555" stroke-width="1.2"/>
<text x="204.8" y="187.7" font-size="6" fill="#3a3a3a" text-anchor="middle" font-weight="normal" textLength="20.6" lengthAdjust="spacingAndGlyphs" stroke="#3a3a3a" stroke-width="0.15">&gt;0.9999</text>
<line x1="182.3" y1="202.4" x2="203.5" y2="202.4" stroke="#555" stroke-width="1.2"/>
<line x1="206.1" y1="202.4" x2="227.3" y2="202.4" stroke="#555" stroke-width="1.2"/>
<text x="193.55" y="198.8" font-size="6" fill="#3a3a3a" text-anchor="middle" font-weight="normal" textLength="20.6" lengthAdjust="spacingAndGlyphs" stroke="#3a3a3a" stroke-width="0.15">&gt;0.9999</text>
<text x="216.05" y="198.8" font-size="6" fill="#3a3a3a" text-anchor="middle" font-weight="normal" textLength="20.6" lengthAdjust="spacingAndGlyphs" stroke="#3a3a3a" stroke-width="0.15">&gt;0.9999</text>
<line x1="288.1" y1="184.3" x2="288.1" y2="262.7" stroke="#1a1a1a" stroke-width="1.5"/>
<line x1="284.9" y1="262" x2="288.1" y2="262" stroke="#1a1a1a" stroke-width="1.2"/>
<text x="282.2" y="266.3" font-size="6.6" fill="#333" stroke="#333" stroke-width="0.2" text-anchor="end" font-family='"Liberation Sans", sans-serif'>10<tspan font-size="4.0" dx="0.7" dy="-3.9">2</tspan></text>
<line x1="284.9" y1="237.16" x2="288.1" y2="237.16" stroke="#1a1a1a" stroke-width="1.2"/>
<text x="282.2" y="241.46" font-size="6.6" fill="#333" stroke="#333" stroke-width="0.2" text-anchor="end" font-family='"Liberation Sans", sans-serif'>10<tspan font-size="4.0" dx="0.7" dy="-3.9">4</tspan></text>
<line x1="284.9" y1="212.32" x2="288.1" y2="212.32" stroke="#1a1a1a" stroke-width="1.2"/>
<text x="282.2" y="216.62" font-size="6.6" fill="#333" stroke="#333" stroke-width="0.2" text-anchor="end" font-family='"Liberation Sans", sans-serif'>10<tspan font-size="4.0" dx="0.7" dy="-3.9">6</tspan></text>
<line x1="284.9" y1="187.48" x2="288.1" y2="187.48" stroke="#1a1a1a" stroke-width="1.2"/>
<text x="282.2" y="191.78" font-size="6.6" fill="#333" stroke="#333" stroke-width="0.2" text-anchor="end" font-family='"Liberation Sans", sans-serif'>10<tspan font-size="4.0" dx="0.7" dy="-3.9">8</tspan></text>
<line x1="287.4" y1="262" x2="362.6" y2="262" stroke="#1a1a1a" stroke-width="1.5"/>
<line x1="303.2" y1="262" x2="303.2" y2="265" stroke="#1a1a1a" stroke-width="1.1"/>
<text x="303.5" y="272" font-size="6.9" fill="#333" text-anchor="end" font-weight="normal" transform="rotate(-45 303.5 272)" stroke="#333" stroke-width="0.15">MM V2</text>
<line x1="325.7" y1="262" x2="325.7" y2="265" stroke="#1a1a1a" stroke-width="1.1"/>
<text x="326" y="272" font-size="6.9" fill="#333" text-anchor="end" font-weight="normal" transform="rotate(-45 326 272)" stroke="#333" stroke-width="0.15">WM V2</text>
<line x1="348.2" y1="262" x2="348.2" y2="265" stroke="#1a1a1a" stroke-width="1.1"/>
<text x="348.5" y="272" font-size="6.9" fill="#333" text-anchor="end" font-weight="normal" transform="rotate(-45 348.5 272)" stroke="#333" stroke-width="0.15">NC V2</text>
<text x="264.2" y="222.7" font-size="6.9" fill="#222" text-anchor="middle" font-weight="bold" transform="rotate(-90 264.2 222.7)" textLength="61.3" lengthAdjust="spacingAndGlyphs">B.1.617 S Fc&#947;R3A MFI</text>
<line x1="303.2" y1="208.5" x2="303.2" y2="243" stroke="#3b1d47" stroke-width="1.1"/>
<line x1="299.6" y1="208.5" x2="306.8" y2="208.5" stroke="#3b1d47" stroke-width="1.3"/>
<line x1="299.6" y1="243" x2="306.8" y2="243" stroke="#3b1d47" stroke-width="1.3"/>
<rect x="296" y="213" width="14.4" height="29" fill="#ab8bb7" stroke="none" stroke-width="0"/>
<line x1="303.2" y1="208.5" x2="303.2" y2="213" stroke="#3b1d47" stroke-width="1.1"/>
<line x1="303.2" y1="242" x2="303.2" y2="243" stroke="#3b1d47" stroke-width="1.1"/>
<line x1="296" y1="215.5" x2="310.4" y2="215.5" stroke="#3b1d47" stroke-width="1.3"/>
<circle cx="303.2" cy="209.3" r="1.55" fill="#3b1d47" stroke="none" stroke-width="0"/>
<circle cx="303.2" cy="210" r="1.55" fill="#3b1d47" stroke="none" stroke-width="0"/>
<circle cx="303.2" cy="215.5" r="1.55" fill="#3b1d47" stroke="none" stroke-width="0"/>
<circle cx="303.2" cy="225.2" r="1.55" fill="#3b1d47" stroke="none" stroke-width="0"/>
<circle cx="303.2" cy="236.6" r="1.55" fill="#3b1d47" stroke="none" stroke-width="0"/>
<circle cx="303.2" cy="238.8" r="1.55" fill="#3b1d47" stroke="none" stroke-width="0"/>
<circle cx="303.2" cy="243" r="1.55" fill="#3b1d47" stroke="none" stroke-width="0"/>
<line x1="325.7" y1="209" x2="325.7" y2="242.4" stroke="#1e2a55" stroke-width="1.1"/>
<line x1="322.1" y1="209" x2="329.3" y2="209" stroke="#1e2a55" stroke-width="1.3"/>
<line x1="322.1" y1="242.4" x2="329.3" y2="242.4" stroke="#1e2a55" stroke-width="1.3"/>
<rect x="318.5" y="217.9" width="14.4" height="22.8" fill="#939dc6" stroke="none" stroke-width="0"/>
<line x1="325.7" y1="209" x2="325.7" y2="217.9" stroke="#1e2a55" stroke-width="1.1"/>
<line x1="325.7" y1="240.7" x2="325.7" y2="242.4" stroke="#1e2a55" stroke-width="1.1"/>
<line x1="318.5" y1="239.9" x2="332.9" y2="239.9" stroke="#1e2a55" stroke-width="1.3"/>
<circle cx="325.7" cy="209.2" r="1.55" fill="#1e2a55" stroke="none" stroke-width="0"/>
<circle cx="325.7" cy="222.8" r="1.55" fill="#1e2a55" stroke="none" stroke-width="0"/>
<circle cx="325.7" cy="235" r="1.55" fill="#1e2a55" stroke="none" stroke-width="0"/>
<circle cx="325.7" cy="236.6" r="1.55" fill="#1e2a55" stroke="none" stroke-width="0"/>
<circle cx="325.7" cy="242.6" r="1.55" fill="#1e2a55" stroke="none" stroke-width="0"/>
<line x1="348.2" y1="210.1" x2="348.2" y2="236.2" stroke="#3a474d" stroke-width="1.1"/>
<line x1="344.6" y1="210.1" x2="351.8" y2="210.1" stroke="#3a474d" stroke-width="1.3"/>
<line x1="344.6" y1="236.2" x2="351.8" y2="236.2" stroke="#3a474d" stroke-width="1.3"/>
<rect x="341" y="213.3" width="14.4" height="2.1" fill="#add3ef" stroke="none" stroke-width="0"/>
<line x1="348.2" y1="210.1" x2="348.2" y2="213.3" stroke="#3a474d" stroke-width="1.1"/>
<line x1="348.2" y1="215.4" x2="348.2" y2="236.2" stroke="#3a474d" stroke-width="1.1"/>
<line x1="341" y1="213.8" x2="355.4" y2="213.8" stroke="#1d6f80" stroke-width="1.3"/>
<circle cx="348.2" cy="210.4" r="1.55" fill="#2a9aaa" stroke="none" stroke-width="0"/>
<circle cx="348.2" cy="212.3" r="1.55" fill="#2a9aaa" stroke="none" stroke-width="0"/>
<circle cx="348.2" cy="214" r="1.55" fill="#2a9aaa" stroke="none" stroke-width="0"/>
<circle cx="348.2" cy="216.3" r="1.55" fill="#2a9aaa" stroke="none" stroke-width="0"/>
<circle cx="348.2" cy="219.8" r="1.55" fill="#2a9aaa" stroke="none" stroke-width="0"/>
<line x1="303.2" y1="190.9" x2="348.2" y2="190.9" stroke="#555" stroke-width="1.2"/>
<text x="325.7" y="187.7" font-size="6" fill="#3a3a3a" text-anchor="middle" font-weight="normal" textLength="20.6" lengthAdjust="spacingAndGlyphs" stroke="#3a3a3a" stroke-width="0.15">&gt;0.9999</text>
<line x1="303.2" y1="202.4" x2="324.4" y2="202.4" stroke="#555" stroke-width="1.2"/>
<line x1="327" y1="202.4" x2="348.2" y2="202.4" stroke="#555" stroke-width="1.2"/>
<text x="314.45" y="198.8" font-size="6" fill="#3a3a3a" text-anchor="middle" font-weight="normal" textLength="20.6" lengthAdjust="spacingAndGlyphs" stroke="#3a3a3a" stroke-width="0.15">&gt;0.9999</text>
<text x="336.95" y="198.8" font-size="6" fill="#3a3a3a" text-anchor="middle" font-weight="normal" textLength="20.6" lengthAdjust="spacingAndGlyphs" stroke="#3a3a3a" stroke-width="0.15">&gt;0.9999</text>
<line x1="429" y1="34.5" x2="429" y2="121" stroke="#1a1a1a" stroke-width="1.3"/>
<line x1="426" y1="120.4" x2="429" y2="120.4" stroke="#1a1a1a" stroke-width="1.2"/>
<text x="423.4" y="123.3" font-size="7" fill="#333" text-anchor="end" font-weight="normal" stroke="#333" stroke-width="0.12">0</text>
<line x1="426" y1="99.5" x2="429" y2="99.5" stroke="#1a1a1a" stroke-width="1.2"/>
<text x="423.4" y="102.4" font-size="7" fill="#333" text-anchor="end" font-weight="normal" stroke="#333" stroke-width="0.12">10000</text>
<line x1="426" y1="78.6" x2="429" y2="78.6" stroke="#1a1a1a" stroke-width="1.2"/>
<text x="423.4" y="81.5" font-size="7" fill="#333" text-anchor="end" font-weight="normal" stroke="#333" stroke-width="0.12">20000</text>
<line x1="426" y1="57.7" x2="429" y2="57.7" stroke="#1a1a1a" stroke-width="1.2"/>
<text x="423.4" y="60.6" font-size="7" fill="#333" text-anchor="end" font-weight="normal" stroke="#333" stroke-width="0.12">30000</text>
<line x1="426" y1="36.8" x2="429" y2="36.8" stroke="#1a1a1a" stroke-width="1.2"/>
<text x="423.4" y="39.7" font-size="7" fill="#333" text-anchor="end" font-weight="normal" stroke="#333" stroke-width="0.12">40000</text>
<line x1="428.4" y1="120.4" x2="512.8" y2="120.4" stroke="#1a1a1a" stroke-width="1.3"/>
<line x1="446" y1="120.4" x2="446" y2="123.4" stroke="#1a1a1a" stroke-width="1.1"/>
<text x="446.9" y="129.9" font-size="6.9" fill="#333" text-anchor="end" font-weight="normal" transform="rotate(-45 446.9 129.9)" stroke="#333" stroke-width="0.15">MM V2</text>
<line x1="470.8" y1="120.4" x2="470.8" y2="123.4" stroke="#1a1a1a" stroke-width="1.1"/>
<text x="471.7" y="129.9" font-size="6.9" fill="#333" text-anchor="end" font-weight="normal" transform="rotate(-45 471.7 129.9)" stroke="#333" stroke-width="0.15">WM V2</text>
<line x1="495.7" y1="120.4" x2="495.7" y2="123.4" stroke="#1a1a1a" stroke-width="1.1"/>
<text x="496.6" y="129.9" font-size="6.9" fill="#333" text-anchor="end" font-weight="normal" transform="rotate(-45 496.6 129.9)" stroke="#333" stroke-width="0.15">NC V2</text>
<text x="396.7" y="77.5" font-size="6.5" fill="#1a1a1a" text-anchor="middle" font-weight="bold" transform="rotate(-90 396.7 77.5)" textLength="48.8" lengthAdjust="spacingAndGlyphs">ADCP phagoscore</text>
<text x="471.2" y="28.4" font-size="8.9" fill="#222" text-anchor="middle" font-weight="normal">B.1.351 S</text>
<clipPath id="vc1"><path d="M450.5,69.2 C450.83,69.27 451.92,69.3 452.5,69.6 C453.08,69.9 453.68,70.35 454,71 C454.32,71.65 454.4,72.58 454.4,73.5 C454.4,74.42 454.3,75.58 454,76.5 C453.7,77.42 453.27,78.17 452.6,79 C451.93,79.83 450.45,80.58 450,81.5 C449.55,82.42 449.8,83.5 449.9,84.5 C450,85.5 450.4,86.75 450.6,87.5 C450.8,88.25 451.15,88.42 451.1,89 C451.05,89.58 450.58,90 450.3,91 C450.02,92 449.62,93.6 449.4,95 C449.18,96.4 448.98,97.82 449,99.4 C449.02,100.98 449.45,102.98 449.5,104.5 C449.55,106.02 449.55,107.58 449.3,108.5 C449.05,109.42 448.22,109.75 448,110 L444,110 C443.78,109.75 442.95,109.42 442.7,108.5 C442.45,107.58 442.45,106.02 442.5,104.5 C442.55,102.98 442.98,100.98 443,99.4 C443.02,97.82 442.82,96.4 442.6,95 C442.38,93.6 441.98,92 441.7,91 C441.42,90 440.95,89.58 440.9,89 C440.85,88.42 441.2,88.25 441.4,87.5 C441.6,86.75 442,85.5 442.1,84.5 C442.2,83.5 442.45,82.42 442,81.5 C441.55,80.58 440.07,79.83 439.4,79 C438.73,78.17 438.3,77.42 438,76.5 C437.7,75.58 437.6,74.42 437.6,73.5 C437.6,72.58 437.68,71.65 438,71 C438.32,70.35 438.92,69.9 439.5,69.6 C440.08,69.3 441.17,69.27 441.5,69.2 Z"/></clipPath>
<path d="M450.5,69.2 C450.83,69.27 451.92,69.3 452.5,69.6 C453.08,69.9 453.68,70.35 454,71 C454.32,71.65 454.4,72.58 454.4,73.5 C454.4,74.42 454.3,75.58 454,76.5 C453.7,77.42 453.27,78.17 452.6,79 C451.93,79.83 450.45,80.58 450,81.5 C449.55,82.42 449.8,83.5 449.9,84.5 C450,85.5 450.4,86.75 450.6,87.5 C450.8,88.25 451.15,88.42 451.1,89 C451.05,89.58 450.58,90 450.3,91 C450.02,92 449.62,93.6 449.4,95 C449.18,96.4 448.98,97.82 449,99.4 C449.02,100.98 449.45,102.98 449.5,104.5 C449.55,106.02 449.55,107.58 449.3,108.5 C449.05,109.42 448.22,109.75 448,110 L444,110 C443.78,109.75 442.95,109.42 442.7,108.5 C442.45,107.58 442.45,106.02 442.5,104.5 C442.55,102.98 442.98,100.98 443,99.4 C443.02,97.82 442.82,96.4 442.6,95 C442.38,93.6 441.98,92 441.7,91 C441.42,90 440.95,89.58 440.9,89 C440.85,88.42 441.2,88.25 441.4,87.5 C441.6,86.75 442,85.5 442.1,84.5 C442.2,83.5 442.45,82.42 442,81.5 C441.55,80.58 440.07,79.83 439.4,79 C438.73,78.17 438.3,77.42 438,76.5 C437.7,75.58 437.6,74.42 437.6,73.5 C437.6,72.58 437.68,71.65 438,71 C438.32,70.35 438.92,69.9 439.5,69.6 C440.08,69.3 441.17,69.27 441.5,69.2 Z" fill="#c8acd4"/>
<g clip-path="url(#vc1)">
<circle cx="440.8" cy="71.8" r="1.3" fill="#b894c6" stroke="#5c2c6c" stroke-width="0.8"/>
<circle cx="444.2" cy="71.8" r="1.3" fill="#b894c6" stroke="#5c2c6c" stroke-width="0.8"/>
<circle cx="447.8" cy="71.8" r="1.3" fill="#b894c6" stroke="#5c2c6c" stroke-width="0.8"/>
<circle cx="451.2" cy="71.8" r="1.3" fill="#b894c6" stroke="#5c2c6c" stroke-width="0.8"/>
<circle cx="439.8" cy="75.2" r="1.3" fill="#b894c6" stroke="#5c2c6c" stroke-width="0.8"/>
<circle cx="443.2" cy="75.2" r="1.3" fill="#b894c6" stroke="#5c2c6c" stroke-width="0.8"/>
<circle cx="446.6" cy="75.2" r="1.3" fill="#b894c6" stroke="#5c2c6c" stroke-width="0.8"/>
<circle cx="450" cy="75.2" r="1.3" fill="#b894c6" stroke="#5c2c6c" stroke-width="0.8"/>
<circle cx="452.8" cy="75.2" r="1.3" fill="#b894c6" stroke="#5c2c6c" stroke-width="0.8"/>
<circle cx="442" cy="78.3" r="1.3" fill="#b894c6" stroke="#5c2c6c" stroke-width="0.8"/>
<circle cx="445.4" cy="78.3" r="1.3" fill="#b894c6" stroke="#5c2c6c" stroke-width="0.8"/>
<circle cx="448.8" cy="78.3" r="1.3" fill="#b894c6" stroke="#5c2c6c" stroke-width="0.8"/>
<circle cx="446" cy="82.5" r="1.3" fill="#b894c6" stroke="#5c2c6c" stroke-width="0.8"/>
<circle cx="445" cy="86" r="1.3" fill="#b894c6" stroke="#5c2c6c" stroke-width="0.8"/>
<circle cx="447" cy="89" r="1.3" fill="#b894c6" stroke="#5c2c6c" stroke-width="0.8"/>
<circle cx="444.8" cy="92.5" r="1.3" fill="#b894c6" stroke="#5c2c6c" stroke-width="0.8"/>
<circle cx="447.2" cy="96" r="1.3" fill="#b894c6" stroke="#5c2c6c" stroke-width="0.8"/>
<circle cx="446" cy="99.5" r="1.3" fill="#b894c6" stroke="#5c2c6c" stroke-width="0.8"/>
<circle cx="445" cy="103" r="1.3" fill="#b894c6" stroke="#5c2c6c" stroke-width="0.8"/>
<circle cx="447" cy="106" r="1.3" fill="#b894c6" stroke="#5c2c6c" stroke-width="0.8"/>
<circle cx="446" cy="108.5" r="1.3" fill="#b894c6" stroke="#5c2c6c" stroke-width="0.8"/>
<line x1="440.3" y1="90" x2="451.7" y2="90" stroke="#5a2868" stroke-width="0.7" stroke-dasharray="1,0.8"/>
<line x1="436.73" y1="74.5" x2="455.27" y2="74.5" stroke="#5a2868" stroke-width="0.7" stroke-dasharray="1,0.8"/>
<line x1="438.92" y1="79.5" x2="453.08" y2="79.5" stroke="#3e1a4c" stroke-width="1.1"/>
</g>
<path d="M450.5,69.2 C450.83,69.27 451.92,69.3 452.5,69.6 C453.08,69.9 453.68,70.35 454,71 C454.32,71.65 454.4,72.58 454.4,73.5 C454.4,74.42 454.3,75.58 454,76.5 C453.7,77.42 453.27,78.17 452.6,79 C451.93,79.83 450.45,80.58 450,81.5 C449.55,82.42 449.8,83.5 449.9,84.5 C450,85.5 450.4,86.75 450.6,87.5 C450.8,88.25 451.15,88.42 451.1,89 C451.05,89.58 450.58,90 450.3,91 C450.02,92 449.62,93.6 449.4,95 C449.18,96.4 448.98,97.82 449,99.4 C449.02,100.98 449.45,102.98 449.5,104.5 C449.55,106.02 449.55,107.58 449.3,108.5 C449.05,109.42 448.22,109.75 448,110 L444,110 C443.78,109.75 442.95,109.42 442.7,108.5 C442.45,107.58 442.45,106.02 442.5,104.5 C442.55,102.98 442.98,100.98 443,99.4 C443.02,97.82 442.82,96.4 442.6,95 C442.38,93.6 441.98,92 441.7,91 C441.42,90 440.95,89.58 440.9,89 C440.85,88.42 441.2,88.25 441.4,87.5 C441.6,86.75 442,85.5 442.1,84.5 C442.2,83.5 442.45,82.42 442,81.5 C441.55,80.58 440.07,79.83 439.4,79 C438.73,78.17 438.3,77.42 438,76.5 C437.7,75.58 437.6,74.42 437.6,73.5 C437.6,72.58 437.68,71.65 438,71 C438.32,70.35 438.92,69.9 439.5,69.6 C440.08,69.3 441.17,69.27 441.5,69.2 Z" fill="none" stroke="#5a2868" stroke-width="0.8"/>
<circle cx="446" cy="68.4" r="1.7" fill="#fff" stroke="#5a2868" stroke-width="0.6"/>
<rect x="443.8" y="66.1" width="4.4" height="2.3" fill="#fff"/>
<clipPath id="vc2"><path d="M472.8,68.4 C472.9,68.55 473.28,68.2 473.4,69.3 C473.52,70.4 473.43,73.05 473.5,75 C473.57,76.95 473.7,78.83 473.8,81 C473.9,83.17 474,85.67 474.1,88 C474.2,90.33 474.3,92.92 474.4,95 C474.5,97.08 474.52,99.17 474.7,100.5 C474.88,101.83 475.23,102.4 475.5,103 C475.77,103.6 475.78,103.43 476.3,104.1 C476.82,104.77 478.13,105.93 478.6,107 C479.07,108.07 479.15,109.5 479.1,110.5 C479.05,111.5 478.77,112.32 478.3,113 C477.83,113.68 477.05,114.27 476.3,114.6 C475.55,114.93 474.22,114.93 473.8,115 L467.8,115 C467.38,114.93 466.05,114.93 465.3,114.6 C464.55,114.27 463.77,113.68 463.3,113 C462.83,112.32 462.55,111.5 462.5,110.5 C462.45,109.5 462.53,108.07 463,107 C463.47,105.93 464.78,104.77 465.3,104.1 C465.82,103.43 465.83,103.6 466.1,103 C466.37,102.4 466.72,101.83 466.9,100.5 C467.08,99.17 467.1,97.08 467.2,95 C467.3,92.92 467.4,90.33 467.5,88 C467.6,85.67 467.7,83.17 467.8,81 C467.9,78.83 468.03,76.95 468.1,75 C468.17,73.05 468.08,70.4 468.2,69.3 C468.32,68.2 468.7,68.55 468.8,68.4 Z"/></clipPath>
<path d="M472.8,68.4 C472.9,68.55 473.28,68.2 473.4,69.3 C473.52,70.4 473.43,73.05 473.5,75 C473.57,76.95 473.7,78.83 473.8,81 C473.9,83.17 474,85.67 474.1,88 C474.2,90.33 474.3,92.92 474.4,95 C474.5,97.08 474.52,99.17 474.7,100.5 C474.88,101.83 475.23,102.4 475.5,103 C475.77,103.6 475.78,103.43 476.3,104.1 C476.82,104.77 478.13,105.93 478.6,107 C479.07,108.07 479.15,109.5 479.1,110.5 C479.05,111.5 478.77,112.32 478.3,113 C477.83,113.68 477.05,114.27 476.3,114.6 C475.55,114.93 474.22,114.93 473.8,115 L467.8,115 C467.38,114.93 466.05,114.93 465.3,114.6 C464.55,114.27 463.77,113.68 463.3,113 C462.83,112.32 462.55,111.5 462.5,110.5 C462.45,109.5 462.53,108.07 463,107 C463.47,105.93 464.78,104.77 465.3,104.1 C465.82,103.43 465.83,103.6 466.1,103 C466.37,102.4 466.72,101.83 466.9,100.5 C467.08,99.17 467.1,97.08 467.2,95 C467.3,92.92 467.4,90.33 467.5,88 C467.6,85.67 467.7,83.17 467.8,81 C467.9,78.83 468.03,76.95 468.1,75 C468.17,73.05 468.08,70.4 468.2,69.3 C468.32,68.2 468.7,68.55 468.8,68.4 Z" fill="#bdc6e5"/>
<g clip-path="url(#vc2)">
<circle cx="470.8" cy="71" r="1.3" fill="#bcc6e4" stroke="#3e5090" stroke-width="0.6"/>
<circle cx="470.8" cy="78" r="1.3" fill="#bcc6e4" stroke="#3e5090" stroke-width="0.6"/>
<circle cx="470.8" cy="85.5" r="1.3" fill="#bcc6e4" stroke="#3e5090" stroke-width="0.6"/>
<circle cx="470.8" cy="92.5" r="1.3" fill="#bcc6e4" stroke="#3e5090" stroke-width="0.6"/>
<circle cx="470.8" cy="99" r="1.3" fill="#bcc6e4" stroke="#3e5090" stroke-width="0.6"/>
<circle cx="466.3" cy="107.5" r="1.3" fill="#bcc6e4" stroke="#3e5090" stroke-width="0.6"/>
<circle cx="469.3" cy="108.5" r="1.3" fill="#bcc6e4" stroke="#3e5090" stroke-width="0.6"/>
<circle cx="472.3" cy="107.5" r="1.3" fill="#bcc6e4" stroke="#3e5090" stroke-width="0.6"/>
<circle cx="475.3" cy="108.5" r="1.3" fill="#bcc6e4" stroke="#3e5090" stroke-width="0.6"/>
<circle cx="465.3" cy="111" r="1.3" fill="#bcc6e4" stroke="#3e5090" stroke-width="0.6"/>
<circle cx="468.3" cy="112" r="1.3" fill="#bcc6e4" stroke="#3e5090" stroke-width="0.6"/>
<circle cx="471.3" cy="111" r="1.3" fill="#bcc6e4" stroke="#3e5090" stroke-width="0.6"/>
<circle cx="474.3" cy="112" r="1.3" fill="#bcc6e4" stroke="#3e5090" stroke-width="0.6"/>
<circle cx="476.8" cy="111" r="1.3" fill="#bcc6e4" stroke="#3e5090" stroke-width="0.6"/>
<circle cx="469.8" cy="114" r="1.3" fill="#bcc6e4" stroke="#3e5090" stroke-width="0.6"/>
<circle cx="472.8" cy="114" r="1.3" fill="#bcc6e4" stroke="#3e5090" stroke-width="0.6"/>
<line x1="462.92" y1="113.5" x2="478.68" y2="113.5" stroke="#2f4079" stroke-width="0.7" stroke-dasharray="1,0.8"/>
<line x1="466.8" y1="81" x2="474.8" y2="81" stroke="#2f4079" stroke-width="0.7" stroke-dasharray="1,0.8"/>
<line x1="464.3" y1="104.1" x2="477.3" y2="104.1" stroke="#1a1a1a" stroke-width="1.1"/>
</g>
<path d="M472.8,68.4 C472.9,68.55 473.28,68.2 473.4,69.3 C473.52,70.4 473.43,73.05 473.5,75 C473.57,76.95 473.7,78.83 473.8,81 C473.9,83.17 474,85.67 474.1,88 C474.2,90.33 474.3,92.92 474.4,95 C474.5,97.08 474.52,99.17 474.7,100.5 C474.88,101.83 475.23,102.4 475.5,103 C475.77,103.6 475.78,103.43 476.3,104.1 C476.82,104.77 478.13,105.93 478.6,107 C479.07,108.07 479.15,109.5 479.1,110.5 C479.05,111.5 478.77,112.32 478.3,113 C477.83,113.68 477.05,114.27 476.3,114.6 C475.55,114.93 474.22,114.93 473.8,115 L467.8,115 C467.38,114.93 466.05,114.93 465.3,114.6 C464.55,114.27 463.77,113.68 463.3,113 C462.83,112.32 462.55,111.5 462.5,110.5 C462.45,109.5 462.53,108.07 463,107 C463.47,105.93 464.78,104.77 465.3,104.1 C465.82,103.43 465.83,103.6 466.1,103 C466.37,102.4 466.72,101.83 466.9,100.5 C467.08,99.17 467.1,97.08 467.2,95 C467.3,92.92 467.4,90.33 467.5,88 C467.6,85.67 467.7,83.17 467.8,81 C467.9,78.83 468.03,76.95 468.1,75 C468.17,73.05 468.08,70.4 468.2,69.3 C468.32,68.2 468.7,68.55 468.8,68.4 Z" fill="none" stroke="#2f4079" stroke-width="0.8"/>
<clipPath id="vc3"><path d="M499.5,59 C499.47,59.25 499.47,59.77 499.3,60.5 C499.13,61.23 498.3,62.57 498.5,63.4 C498.7,64.23 499.8,64.8 500.5,65.5 C501.2,66.2 502.08,66.82 502.7,67.6 C503.32,68.38 504.47,68.97 504.2,70.2 C503.93,71.43 502.1,73.47 501.1,75 C500.1,76.53 498.8,78.23 498.2,79.4 C497.6,80.57 497.65,80.9 497.5,82 C497.35,83.1 497.32,84.83 497.3,86 C497.28,87.17 497.23,88.1 497.4,89 C497.57,89.9 498.25,90.65 498.3,91.4 C498.35,92.15 498,92.93 497.7,93.5 C497.4,94.07 496.7,94.58 496.5,94.8 L495.3,94.8 C495.1,94.58 494.4,94.07 494.1,93.5 C493.8,92.93 493.45,92.15 493.5,91.4 C493.55,90.65 494.23,89.9 494.4,89 C494.57,88.1 494.52,87.17 494.5,86 C494.48,84.83 494.45,83.1 494.3,82 C494.15,80.9 494.2,80.57 493.6,79.4 C493,78.23 491.7,76.53 490.7,75 C489.7,73.47 487.87,71.43 487.6,70.2 C487.33,68.97 488.48,68.38 489.1,67.6 C489.72,66.82 490.6,66.2 491.3,65.5 C492,64.8 493.1,64.23 493.3,63.4 C493.5,62.57 492.67,61.23 492.5,60.5 C492.33,59.77 492.33,59.25 492.3,59 Z"/></clipPath>
<path d="M499.5,59 C499.47,59.25 499.47,59.77 499.3,60.5 C499.13,61.23 498.3,62.57 498.5,63.4 C498.7,64.23 499.8,64.8 500.5,65.5 C501.2,66.2 502.08,66.82 502.7,67.6 C503.32,68.38 504.47,68.97 504.2,70.2 C503.93,71.43 502.1,73.47 501.1,75 C500.1,76.53 498.8,78.23 498.2,79.4 C497.6,80.57 497.65,80.9 497.5,82 C497.35,83.1 497.32,84.83 497.3,86 C497.28,87.17 497.23,88.1 497.4,89 C497.57,89.9 498.25,90.65 498.3,91.4 C498.35,92.15 498,92.93 497.7,93.5 C497.4,94.07 496.7,94.58 496.5,94.8 L495.3,94.8 C495.1,94.58 494.4,94.07 494.1,93.5 C493.8,92.93 493.45,92.15 493.5,91.4 C493.55,90.65 494.23,89.9 494.4,89 C494.57,88.1 494.52,87.17 494.5,86 C494.48,84.83 494.45,83.1 494.3,82 C494.15,80.9 494.2,80.57 493.6,79.4 C493,78.23 491.7,76.53 490.7,75 C489.7,73.47 487.87,71.43 487.6,70.2 C487.33,68.97 488.48,68.38 489.1,67.6 C489.72,66.82 490.6,66.2 491.3,65.5 C492,64.8 493.1,64.23 493.3,63.4 C493.5,62.57 492.67,61.23 492.5,60.5 C492.33,59.77 492.33,59.25 492.3,59 Z" fill="#c4e6f8"/>
<g clip-path="url(#vc3)">
<circle cx="494.4" cy="61.5" r="1.3" fill="#c8e8f8" stroke="#5aaee0" stroke-width="0.6"/>
<circle cx="497.4" cy="61.5" r="1.3" fill="#c8e8f8" stroke="#5aaee0" stroke-width="0.6"/>
<circle cx="491.9" cy="67.2" r="1.3" fill="#c8e8f8" stroke="#5aaee0" stroke-width="0.6"/>
<circle cx="495.9" cy="67.2" r="1.3" fill="#c8e8f8" stroke="#5aaee0" stroke-width="0.6"/>
<circle cx="499.9" cy="67.2" r="1.3" fill="#c8e8f8" stroke="#5aaee0" stroke-width="0.6"/>
<circle cx="492.9" cy="73" r="1.3" fill="#c8e8f8" stroke="#5aaee0" stroke-width="0.6"/>
<circle cx="495.9" cy="73" r="1.3" fill="#c8e8f8" stroke="#5aaee0" stroke-width="0.6"/>
<circle cx="498.9" cy="73" r="1.3" fill="#c8e8f8" stroke="#5aaee0" stroke-width="0.6"/>
<circle cx="495.9" cy="77" r="1.3" fill="#c8e8f8" stroke="#5aaee0" stroke-width="0.6"/>
<circle cx="495.9" cy="83" r="1.3" fill="#c8e8f8" stroke="#5aaee0" stroke-width="0.6"/>
<circle cx="495.9" cy="88" r="1.3" fill="#c8e8f8" stroke="#5aaee0" stroke-width="0.6"/>
<circle cx="495.9" cy="92" r="1.3" fill="#c8e8f8" stroke="#5aaee0" stroke-width="0.6"/>
<line x1="489.7" y1="75" x2="502.1" y2="75" stroke="#3594d0" stroke-width="0.7" stroke-dasharray="1,0.8"/>
<line x1="491.25" y1="64.5" x2="500.55" y2="64.5" stroke="#3594d0" stroke-width="0.7" stroke-dasharray="1,0.8"/>
<line x1="486.66" y1="70.3" x2="505.14" y2="70.3" stroke="#1a2a44" stroke-width="1.1"/>
</g>
<path d="M499.5,59 C499.47,59.25 499.47,59.77 499.3,60.5 C499.13,61.23 498.3,62.57 498.5,63.4 C498.7,64.23 499.8,64.8 500.5,65.5 C501.2,66.2 502.08,66.82 502.7,67.6 C503.32,68.38 504.47,68.97 504.2,70.2 C503.93,71.43 502.1,73.47 501.1,75 C500.1,76.53 498.8,78.23 498.2,79.4 C497.6,80.57 497.65,80.9 497.5,82 C497.35,83.1 497.32,84.83 497.3,86 C497.28,87.17 497.23,88.1 497.4,89 C497.57,89.9 498.25,90.65 498.3,91.4 C498.35,92.15 498,92.93 497.7,93.5 C497.4,94.07 496.7,94.58 496.5,94.8 L495.3,94.8 C495.1,94.58 494.4,94.07 494.1,93.5 C493.8,92.93 493.45,92.15 493.5,91.4 C493.55,90.65 494.23,89.9 494.4,89 C494.57,88.1 494.52,87.17 494.5,86 C494.48,84.83 494.45,83.1 494.3,82 C494.15,80.9 494.2,80.57 493.6,79.4 C493,78.23 491.7,76.53 490.7,75 C489.7,73.47 487.87,71.43 487.6,70.2 C487.33,68.97 488.48,68.38 489.1,67.6 C489.72,66.82 490.6,66.2 491.3,65.5 C492,64.8 493.1,64.23 493.3,63.4 C493.5,62.57 492.67,61.23 492.5,60.5 C492.33,59.77 492.33,59.25 492.3,59 Z" fill="none" stroke="#3594d0" stroke-width="0.8"/>
<circle cx="495.9" cy="58.3" r="1.2" fill="#fff" stroke="#3594d0" stroke-width="0.6"/>
<rect x="494.2" y="56.5" width="3.4" height="1.8" fill="#fff"/>
<line x1="446" y1="45.4" x2="496.2" y2="45.4" stroke="#333" stroke-width="1.2"/>
<text x="471" y="45.1" font-size="6.2" fill="#222" text-anchor="middle" font-weight="normal" stroke="#222" stroke-width="0.35">*</text>
<line x1="470.8" y1="54.1" x2="496.2" y2="54.1" stroke="#333" stroke-width="1.2"/>
<text x="483.2" y="53.6" font-size="6.2" fill="#222" text-anchor="middle" font-weight="normal" stroke="#222" stroke-width="0.35">****</text>
<line x1="429" y1="187.3" x2="429" y2="273.7" stroke="#1a1a1a" stroke-width="1.3"/>
<line x1="426" y1="273.1" x2="429" y2="273.1" stroke="#1a1a1a" stroke-width="1.2"/>
<text x="423.4" y="276" font-size="7" fill="#333" text-anchor="end" font-weight="normal" stroke="#333" stroke-width="0.12">0</text>
<line x1="426" y1="256.4" x2="429" y2="256.4" stroke="#1a1a1a" stroke-width="1.2"/>
<text x="423.4" y="259.3" font-size="7" fill="#333" text-anchor="end" font-weight="normal" stroke="#333" stroke-width="0.12">10000</text>
<line x1="426" y1="239.7" x2="429" y2="239.7" stroke="#1a1a1a" stroke-width="1.2"/>
<text x="423.4" y="242.6" font-size="7" fill="#333" text-anchor="end" font-weight="normal" stroke="#333" stroke-width="0.12">20000</text>
<line x1="426" y1="223" x2="429" y2="223" stroke="#1a1a1a" stroke-width="1.2"/>
<text x="423.4" y="225.9" font-size="7" fill="#333" text-anchor="end" font-weight="normal" stroke="#333" stroke-width="0.12">30000</text>
<line x1="426" y1="206.3" x2="429" y2="206.3" stroke="#1a1a1a" stroke-width="1.2"/>
<text x="423.4" y="209.2" font-size="7" fill="#333" text-anchor="end" font-weight="normal" stroke="#333" stroke-width="0.12">40000</text>
<line x1="426" y1="189.6" x2="429" y2="189.6" stroke="#1a1a1a" stroke-width="1.2"/>
<text x="423.4" y="192.5" font-size="7" fill="#333" text-anchor="end" font-weight="normal" stroke="#333" stroke-width="0.12">50000</text>
<line x1="428.4" y1="273.1" x2="512.8" y2="273.1" stroke="#1a1a1a" stroke-width="1.3"/>
<line x1="446" y1="273.1" x2="446" y2="276.1" stroke="#1a1a1a" stroke-width="1.1"/>
<text x="446.9" y="282.6" font-size="6.9" fill="#333" text-anchor="end" font-weight="normal" transform="rotate(-45 446.9 282.6)" stroke="#333" stroke-width="0.15">MM V2</text>
<line x1="470.8" y1="273.1" x2="470.8" y2="276.1" stroke="#1a1a1a" stroke-width="1.1"/>
<text x="471.7" y="282.6" font-size="6.9" fill="#333" text-anchor="end" font-weight="normal" transform="rotate(-45 471.7 282.6)" stroke="#333" stroke-width="0.15">WM V2</text>
<line x1="495.7" y1="273.1" x2="495.7" y2="276.1" stroke="#1a1a1a" stroke-width="1.1"/>
<text x="496.6" y="282.6" font-size="6.9" fill="#333" text-anchor="end" font-weight="normal" transform="rotate(-45 496.6 282.6)" stroke="#333" stroke-width="0.15">NC V2</text>
<text x="396.7" y="230.25" font-size="6.5" fill="#1a1a1a" text-anchor="middle" font-weight="bold" transform="rotate(-90 396.7 230.25)" textLength="48.8" lengthAdjust="spacingAndGlyphs">ADCP phagoscore</text>
<text x="471.2" y="181" font-size="8.9" fill="#222" text-anchor="middle" font-weight="normal">P.1 S</text>
<clipPath id="vc4"><path d="M447,212.3 C447.08,212.45 447.38,211.67 447.5,213.2 C447.62,214.73 447.47,219.78 447.7,221.5 C447.93,223.22 448.4,222.67 448.9,223.5 C449.4,224.33 450.23,225.25 450.7,226.5 C451.17,227.75 451.37,229.37 451.7,231 C452.03,232.63 452.3,234.78 452.7,236.3 C453.1,237.82 453.97,238.98 454.1,240.1 C454.23,241.22 453.73,242.17 453.5,243 C453.27,243.83 453.05,243.98 452.7,245.1 C452.35,246.22 451.53,248.18 451.4,249.7 C451.27,251.22 451.72,252.68 451.9,254.2 C452.08,255.72 452.42,257.5 452.5,258.8 C452.58,260.1 452.63,260.97 452.4,262 C452.17,263.03 451.68,264.25 451.1,265 C450.52,265.75 449.27,266.25 448.9,266.5 L442.9,266.5 C442.53,266.25 441.28,265.75 440.7,265 C440.12,264.25 439.63,263.03 439.4,262 C439.17,260.97 439.22,260.1 439.3,258.8 C439.38,257.5 439.72,255.72 439.9,254.2 C440.08,252.68 440.53,251.22 440.4,249.7 C440.27,248.18 439.45,246.22 439.1,245.1 C438.75,243.98 438.53,243.83 438.3,243 C438.07,242.17 437.57,241.22 437.7,240.1 C437.83,238.98 438.7,237.82 439.1,236.3 C439.5,234.78 439.77,232.63 440.1,231 C440.43,229.37 440.63,227.75 441.1,226.5 C441.57,225.25 442.4,224.33 442.9,223.5 C443.4,222.67 443.87,223.22 444.1,221.5 C444.33,219.78 444.18,214.73 444.3,213.2 C444.42,211.67 444.72,212.45 444.8,212.3 Z"/></clipPath>
<path d="M447,212.3 C447.08,212.45 447.38,211.67 447.5,213.2 C447.62,214.73 447.47,219.78 447.7,221.5 C447.93,223.22 448.4,222.67 448.9,223.5 C449.4,224.33 450.23,225.25 450.7,226.5 C451.17,227.75 451.37,229.37 451.7,231 C452.03,232.63 452.3,234.78 452.7,236.3 C453.1,237.82 453.97,238.98 454.1,240.1 C454.23,241.22 453.73,242.17 453.5,243 C453.27,243.83 453.05,243.98 452.7,245.1 C452.35,246.22 451.53,248.18 451.4,249.7 C451.27,251.22 451.72,252.68 451.9,254.2 C452.08,255.72 452.42,257.5 452.5,258.8 C452.58,260.1 452.63,260.97 452.4,262 C452.17,263.03 451.68,264.25 451.1,265 C450.52,265.75 449.27,266.25 448.9,266.5 L442.9,266.5 C442.53,266.25 441.28,265.75 440.7,265 C440.12,264.25 439.63,263.03 439.4,262 C439.17,260.97 439.22,260.1 439.3,258.8 C439.38,257.5 439.72,255.72 439.9,254.2 C440.08,252.68 440.53,251.22 440.4,249.7 C440.27,248.18 439.45,246.22 439.1,245.1 C438.75,243.98 438.53,243.83 438.3,243 C438.07,242.17 437.57,241.22 437.7,240.1 C437.83,238.98 438.7,237.82 439.1,236.3 C439.5,234.78 439.77,232.63 440.1,231 C440.43,229.37 440.63,227.75 441.1,226.5 C441.57,225.25 442.4,224.33 442.9,223.5 C443.4,222.67 443.87,223.22 444.1,221.5 C444.33,219.78 444.18,214.73 444.3,213.2 C444.42,211.67 444.72,212.45 444.8,212.3 Z" fill="#d0b6da"/>
<g clip-path="url(#vc4)">
<circle cx="445.9" cy="215" r="1.3" fill="#cdb2d8" stroke="#5e2e70" stroke-width="0.75"/>
<circle cx="445.9" cy="219.5" r="1.3" fill="#cdb2d8" stroke="#5e2e70" stroke-width="0.75"/>
<circle cx="445.9" cy="224" r="1.3" fill="#cdb2d8" stroke="#5e2e70" stroke-width="0.75"/>
<circle cx="448.4" cy="228" r="1.3" fill="#cdb2d8" stroke="#5e2e70" stroke-width="0.75"/>
<circle cx="443.4" cy="229.5" r="1.3" fill="#cdb2d8" stroke="#5e2e70" stroke-width="0.75"/>
<circle cx="446.9" cy="233.5" r="1.3" fill="#cdb2d8" stroke="#5e2e70" stroke-width="0.75"/>
<circle cx="441.9" cy="237" r="1.3" fill="#cdb2d8" stroke="#5e2e70" stroke-width="0.75"/>
<circle cx="445.9" cy="238" r="1.3" fill="#cdb2d8" stroke="#5e2e70" stroke-width="0.75"/>
<circle cx="449.9" cy="237" r="1.3" fill="#cdb2d8" stroke="#5e2e70" stroke-width="0.75"/>
<circle cx="440.9" cy="241" r="1.3" fill="#cdb2d8" stroke="#5e2e70" stroke-width="0.75"/>
<circle cx="444.4" cy="241.5" r="1.3" fill="#cdb2d8" stroke="#5e2e70" stroke-width="0.75"/>
<circle cx="447.9" cy="241.5" r="1.3" fill="#cdb2d8" stroke="#5e2e70" stroke-width="0.75"/>
<circle cx="451.4" cy="241" r="1.3" fill="#cdb2d8" stroke="#5e2e70" stroke-width="0.75"/>
<circle cx="441.9" cy="247" r="1.3" fill="#cdb2d8" stroke="#5e2e70" stroke-width="0.75"/>
<circle cx="448.9" cy="248" r="1.3" fill="#cdb2d8" stroke="#5e2e70" stroke-width="0.75"/>
<circle cx="445.9" cy="251.5" r="1.3" fill="#cdb2d8" stroke="#5e2e70" stroke-width="0.75"/>
<circle cx="441.9" cy="256" r="1.3" fill="#cdb2d8" stroke="#5e2e70" stroke-width="0.75"/>
<circle cx="448.9" cy="255.5" r="1.3" fill="#cdb2d8" stroke="#5e2e70" stroke-width="0.75"/>
<circle cx="443.9" cy="260" r="1.3" fill="#cdb2d8" stroke="#5e2e70" stroke-width="0.75"/>
<circle cx="448.4" cy="261.5" r="1.3" fill="#cdb2d8" stroke="#5e2e70" stroke-width="0.75"/>
<circle cx="442.9" cy="264" r="1.3" fill="#cdb2d8" stroke="#5e2e70" stroke-width="0.75"/>
<circle cx="446.9" cy="264.5" r="1.3" fill="#cdb2d8" stroke="#5e2e70" stroke-width="0.75"/>
<line x1="438.53" y1="257" x2="453.27" y2="257" stroke="#5e2e70" stroke-width="0.7" stroke-dasharray="1,0.8"/>
<line x1="439.32" y1="230" x2="452.48" y2="230" stroke="#5e2e70" stroke-width="0.7" stroke-dasharray="1,0.8"/>
<line x1="437.68" y1="244" x2="454.12" y2="244" stroke="#3a1a48" stroke-width="1.1"/>
</g>
<path d="M447,212.3 C447.08,212.45 447.38,211.67 447.5,213.2 C447.62,214.73 447.47,219.78 447.7,221.5 C447.93,223.22 448.4,222.67 448.9,223.5 C449.4,224.33 450.23,225.25 450.7,226.5 C451.17,227.75 451.37,229.37 451.7,231 C452.03,232.63 452.3,234.78 452.7,236.3 C453.1,237.82 453.97,238.98 454.1,240.1 C454.23,241.22 453.73,242.17 453.5,243 C453.27,243.83 453.05,243.98 452.7,245.1 C452.35,246.22 451.53,248.18 451.4,249.7 C451.27,251.22 451.72,252.68 451.9,254.2 C452.08,255.72 452.42,257.5 452.5,258.8 C452.58,260.1 452.63,260.97 452.4,262 C452.17,263.03 451.68,264.25 451.1,265 C450.52,265.75 449.27,266.25 448.9,266.5 L442.9,266.5 C442.53,266.25 441.28,265.75 440.7,265 C440.12,264.25 439.63,263.03 439.4,262 C439.17,260.97 439.22,260.1 439.3,258.8 C439.38,257.5 439.72,255.72 439.9,254.2 C440.08,252.68 440.53,251.22 440.4,249.7 C440.27,248.18 439.45,246.22 439.1,245.1 C438.75,243.98 438.53,243.83 438.3,243 C438.07,242.17 437.57,241.22 437.7,240.1 C437.83,238.98 438.7,237.82 439.1,236.3 C439.5,234.78 439.77,232.63 440.1,231 C440.43,229.37 440.63,227.75 441.1,226.5 C441.57,225.25 442.4,224.33 442.9,223.5 C443.4,222.67 443.87,223.22 444.1,221.5 C444.33,219.78 444.18,214.73 444.3,213.2 C444.42,211.67 444.72,212.45 444.8,212.3 Z" fill="none" stroke="#5e2e70" stroke-width="0.8"/>
<clipPath id="vc5"><path d="M472.1,219 C472.18,220.17 472.45,223.78 472.6,226 C472.75,228.22 472.82,230.57 473,232.3 C473.18,234.03 473.65,235.02 473.7,236.4 C473.75,237.78 473.45,238.58 473.3,240.6 C473.15,242.62 472.73,246.37 472.8,248.5 C472.87,250.63 473.05,251.78 473.7,253.4 C474.35,255.02 475.9,256.78 476.7,258.2 C477.5,259.62 478.15,260.8 478.5,261.9 C478.85,263 479.02,263.95 478.8,264.8 C478.58,265.65 477.97,266.43 477.2,267 C476.43,267.57 474.7,268 474.2,268.2 L467.2,268.2 C466.7,268 464.97,267.57 464.2,267 C463.43,266.43 462.82,265.65 462.6,264.8 C462.38,263.95 462.55,263 462.9,261.9 C463.25,260.8 463.9,259.62 464.7,258.2 C465.5,256.78 467.05,255.02 467.7,253.4 C468.35,251.78 468.53,250.63 468.6,248.5 C468.67,246.37 468.25,242.62 468.1,240.6 C467.95,238.58 467.65,237.78 467.7,236.4 C467.75,235.02 468.22,234.03 468.4,232.3 C468.58,230.57 468.65,228.22 468.8,226 C468.95,223.78 469.22,220.17 469.3,219 Z"/></clipPath>
<path d="M472.1,219 C472.18,220.17 472.45,223.78 472.6,226 C472.75,228.22 472.82,230.57 473,232.3 C473.18,234.03 473.65,235.02 473.7,236.4 C473.75,237.78 473.45,238.58 473.3,240.6 C473.15,242.62 472.73,246.37 472.8,248.5 C472.87,250.63 473.05,251.78 473.7,253.4 C474.35,255.02 475.9,256.78 476.7,258.2 C477.5,259.62 478.15,260.8 478.5,261.9 C478.85,263 479.02,263.95 478.8,264.8 C478.58,265.65 477.97,266.43 477.2,267 C476.43,267.57 474.7,268 474.2,268.2 L467.2,268.2 C466.7,268 464.97,267.57 464.2,267 C463.43,266.43 462.82,265.65 462.6,264.8 C462.38,263.95 462.55,263 462.9,261.9 C463.25,260.8 463.9,259.62 464.7,258.2 C465.5,256.78 467.05,255.02 467.7,253.4 C468.35,251.78 468.53,250.63 468.6,248.5 C468.67,246.37 468.25,242.62 468.1,240.6 C467.95,238.58 467.65,237.78 467.7,236.4 C467.75,235.02 468.22,234.03 468.4,232.3 C468.58,230.57 468.65,228.22 468.8,226 C468.95,223.78 469.22,220.17 469.3,219 Z" fill="#bdc6e5"/>
<g clip-path="url(#vc5)">
<circle cx="470.7" cy="222" r="1.3" fill="#bcc6e4" stroke="#3e5090" stroke-width="0.6"/>
<circle cx="470.7" cy="229" r="1.3" fill="#bcc6e4" stroke="#3e5090" stroke-width="0.6"/>
<circle cx="470.7" cy="236" r="1.3" fill="#bcc6e4" stroke="#3e5090" stroke-width="0.6"/>
<circle cx="470.7" cy="244" r="1.3" fill="#bcc6e4" stroke="#3e5090" stroke-width="0.6"/>
<circle cx="470.7" cy="250" r="1.3" fill="#bcc6e4" stroke="#3e5090" stroke-width="0.6"/>
<circle cx="470.7" cy="256" r="1.3" fill="#bcc6e4" stroke="#3e5090" stroke-width="0.6"/>
<circle cx="465.7" cy="264.5" r="1.3" fill="#bcc6e4" stroke="#3e5090" stroke-width="0.6"/>
<circle cx="469" cy="265" r="1.3" fill="#bcc6e4" stroke="#3e5090" stroke-width="0.6"/>
<circle cx="472.4" cy="264.5" r="1.3" fill="#bcc6e4" stroke="#3e5090" stroke-width="0.6"/>
<circle cx="475.7" cy="265" r="1.3" fill="#bcc6e4" stroke="#3e5090" stroke-width="0.6"/>
<circle cx="467.7" cy="267" r="1.3" fill="#bcc6e4" stroke="#3e5090" stroke-width="0.6"/>
<circle cx="472.7" cy="267" r="1.3" fill="#bcc6e4" stroke="#3e5090" stroke-width="0.6"/>
<line x1="462.47" y1="266" x2="478.93" y2="266" stroke="#2f4079" stroke-width="0.7" stroke-dasharray="1,0.8"/>
<line x1="466.71" y1="236.5" x2="474.69" y2="236.5" stroke="#2f4079" stroke-width="0.7" stroke-dasharray="1,0.8"/>
<line x1="461.89" y1="262" x2="479.51" y2="262" stroke="#1a1a1a" stroke-width="1.1"/>
</g>
<path d="M472.1,219 C472.18,220.17 472.45,223.78 472.6,226 C472.75,228.22 472.82,230.57 473,232.3 C473.18,234.03 473.65,235.02 473.7,236.4 C473.75,237.78 473.45,238.58 473.3,240.6 C473.15,242.62 472.73,246.37 472.8,248.5 C472.87,250.63 473.05,251.78 473.7,253.4 C474.35,255.02 475.9,256.78 476.7,258.2 C477.5,259.62 478.15,260.8 478.5,261.9 C478.85,263 479.02,263.95 478.8,264.8 C478.58,265.65 477.97,266.43 477.2,267 C476.43,267.57 474.7,268 474.2,268.2 L467.2,268.2 C466.7,268 464.97,267.57 464.2,267 C463.43,266.43 462.82,265.65 462.6,264.8 C462.38,263.95 462.55,263 462.9,261.9 C463.25,260.8 463.9,259.62 464.7,258.2 C465.5,256.78 467.05,255.02 467.7,253.4 C468.35,251.78 468.53,250.63 468.6,248.5 C468.67,246.37 468.25,242.62 468.1,240.6 C467.95,238.58 467.65,237.78 467.7,236.4 C467.75,235.02 468.22,234.03 468.4,232.3 C468.58,230.57 468.65,228.22 468.8,226 C468.95,223.78 469.22,220.17 469.3,219 Z" fill="none" stroke="#2f4079" stroke-width="0.8"/>
<clipPath id="vc6"><path d="M499.2,217.9 C499.13,218.17 499.03,218.85 498.8,219.5 C498.57,220.15 497.48,220.67 497.8,221.8 C498.12,222.93 499.7,224.77 500.7,226.3 C501.7,227.83 503.67,229.68 503.8,231 C503.93,232.32 501.75,232.95 501.5,234.2 C501.25,235.45 502.48,237.23 502.3,238.5 C502.12,239.77 500.95,240.68 500.4,241.8 C499.85,242.92 499.57,244.28 499,245.2 C498.43,246.12 497.33,246.95 497,247.3 L494.6,247.3 C494.27,246.95 493.17,246.12 492.6,245.2 C492.03,244.28 491.75,242.92 491.2,241.8 C490.65,240.68 489.48,239.77 489.3,238.5 C489.12,237.23 490.35,235.45 490.1,234.2 C489.85,232.95 487.67,232.32 487.8,231 C487.93,229.68 489.9,227.83 490.9,226.3 C491.9,224.77 493.48,222.93 493.8,221.8 C494.12,220.67 493.03,220.15 492.8,219.5 C492.57,218.85 492.47,218.17 492.4,217.9 Z"/></clipPath>
<path d="M499.2,217.9 C499.13,218.17 499.03,218.85 498.8,219.5 C498.57,220.15 497.48,220.67 497.8,221.8 C498.12,222.93 499.7,224.77 500.7,226.3 C501.7,227.83 503.67,229.68 503.8,231 C503.93,232.32 501.75,232.95 501.5,234.2 C501.25,235.45 502.48,237.23 502.3,238.5 C502.12,239.77 500.95,240.68 500.4,241.8 C499.85,242.92 499.57,244.28 499,245.2 C498.43,246.12 497.33,246.95 497,247.3 L494.6,247.3 C494.27,246.95 493.17,246.12 492.6,245.2 C492.03,244.28 491.75,242.92 491.2,241.8 C490.65,240.68 489.48,239.77 489.3,238.5 C489.12,237.23 490.35,235.45 490.1,234.2 C489.85,232.95 487.67,232.32 487.8,231 C487.93,229.68 489.9,227.83 490.9,226.3 C491.9,224.77 493.48,222.93 493.8,221.8 C494.12,220.67 493.03,220.15 492.8,219.5 C492.57,218.85 492.47,218.17 492.4,217.9 Z" fill="#cdeaf9"/>
<g clip-path="url(#vc6)">
<circle cx="495.8" cy="221" r="1.3" fill="#c2e4f7" stroke="#4aa6dc" stroke-width="0.6"/>
<circle cx="492.8" cy="227" r="1.3" fill="#c2e4f7" stroke="#4aa6dc" stroke-width="0.6"/>
<circle cx="498.8" cy="227" r="1.3" fill="#c2e4f7" stroke="#4aa6dc" stroke-width="0.6"/>
<circle cx="490.8" cy="231" r="1.3" fill="#c2e4f7" stroke="#4aa6dc" stroke-width="0.6"/>
<circle cx="495.8" cy="231" r="1.3" fill="#c2e4f7" stroke="#4aa6dc" stroke-width="0.6"/>
<circle cx="500.8" cy="231" r="1.3" fill="#c2e4f7" stroke="#4aa6dc" stroke-width="0.6"/>
<circle cx="493.8" cy="235" r="1.3" fill="#c2e4f7" stroke="#4aa6dc" stroke-width="0.6"/>
<circle cx="497.8" cy="235" r="1.3" fill="#c2e4f7" stroke="#4aa6dc" stroke-width="0.6"/>
<circle cx="493.8" cy="239" r="1.3" fill="#c2e4f7" stroke="#4aa6dc" stroke-width="0.6"/>
<circle cx="497.8" cy="239" r="1.3" fill="#c2e4f7" stroke="#4aa6dc" stroke-width="0.6"/>
<circle cx="495.8" cy="243" r="1.3" fill="#c2e4f7" stroke="#4aa6dc" stroke-width="0.6"/>
<line x1="488.59" y1="239" x2="503.01" y2="239" stroke="#3a98d2" stroke-width="0.7" stroke-dasharray="1,0.8"/>
<line x1="491.38" y1="224" x2="500.22" y2="224" stroke="#3a98d2" stroke-width="0.7" stroke-dasharray="1,0.8"/>
<line x1="487.02" y1="231.3" x2="504.58" y2="231.3" stroke="#1a2a44" stroke-width="1.1"/>
</g>
<path d="M499.2,217.9 C499.13,218.17 499.03,218.85 498.8,219.5 C498.57,220.15 497.48,220.67 497.8,221.8 C498.12,222.93 499.7,224.77 500.7,226.3 C501.7,227.83 503.67,229.68 503.8,231 C503.93,232.32 501.75,232.95 501.5,234.2 C501.25,235.45 502.48,237.23 502.3,238.5 C502.12,239.77 500.95,240.68 500.4,241.8 C499.85,242.92 499.57,244.28 499,245.2 C498.43,246.12 497.33,246.95 497,247.3 L494.6,247.3 C494.27,246.95 493.17,246.12 492.6,245.2 C492.03,244.28 491.75,242.92 491.2,241.8 C490.65,240.68 489.48,239.77 489.3,238.5 C489.12,237.23 490.35,235.45 490.1,234.2 C489.85,232.95 487.67,232.32 487.8,231 C487.93,229.68 489.9,227.83 490.9,226.3 C491.9,224.77 493.48,222.93 493.8,221.8 C494.12,220.67 493.03,220.15 492.8,219.5 C492.57,218.85 492.47,218.17 492.4,217.9 Z" fill="none" stroke="#3a98d2" stroke-width="0.8"/>
<circle cx="495.8" cy="217.3" r="1" fill="#fff" stroke="#3a98d2" stroke-width="0.6"/>
<rect x="494.3" y="215.7" width="3" height="1.6" fill="#fff"/>
<line x1="446" y1="200.3" x2="496.2" y2="200.3" stroke="#333" stroke-width="1.2"/>
<text x="471" y="199.8" font-size="6.2" fill="#222" text-anchor="middle" font-weight="normal" stroke="#222" stroke-width="0.35">*</text>
<line x1="470.8" y1="210.8" x2="496.2" y2="210.8" stroke="#333" stroke-width="1.2"/>
<text x="483.2" y="209.8" font-size="6.2" fill="#222" text-anchor="middle" font-weight="normal" stroke="#222" stroke-width="0.35">***</text>
</svg></body></html>
